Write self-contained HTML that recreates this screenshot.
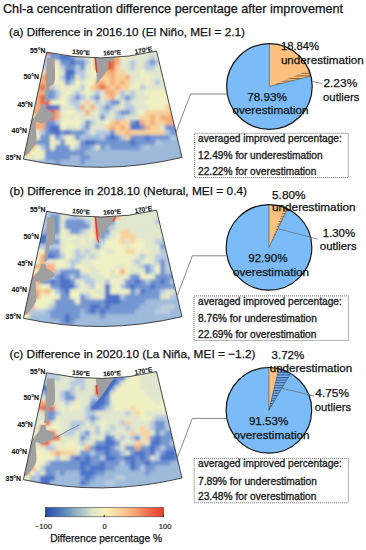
<!DOCTYPE html><html><head><meta charset="utf-8"><style>
html,body{margin:0;padding:0;background:#fff;}
svg{display:block;}
text{font-family:"Liberation Sans", sans-serif;}
</style></head><body>
<svg width="366" height="550" viewBox="0 0 366 550">
<defs>
<filter id="bl10" x="-10%" y="-10%" width="120%" height="120%"><feGaussianBlur stdDeviation="3.5"/></filter>
<filter id="bl5" x="-10%" y="-10%" width="120%" height="120%"><feGaussianBlur stdDeviation="1.4"/></filter>
<filter id="bl1" x="-20%" y="-20%" width="140%" height="140%"><feGaussianBlur stdDeviation="0.8"/></filter>
<pattern id="hatchO" patternUnits="userSpaceOnUse" width="4" height="2.6"><rect width="4" height="2.6" fill="#fdc17f"/><rect y="0" width="4" height="1.0" fill="#8e5c2c"/></pattern>
<pattern id="hatchB" patternUnits="userSpaceOnUse" width="4" height="2.6"><rect width="4" height="2.6" fill="#7bbcf8"/><rect y="0" width="4" height="1.1" fill="#2d4c88"/></pattern>
<linearGradient id="cbar" x1="0" x2="1" y1="0" y2="0">
<stop offset="0" stop-color="#2e44b0"/><stop offset="0.075" stop-color="#3a68b0"/><stop offset="0.16" stop-color="#5a88ba"/>
<stop offset="0.24" stop-color="#88a8c2"/><stop offset="0.32" stop-color="#b4c6c8"/><stop offset="0.40" stop-color="#dce4c4"/>
<stop offset="0.49" stop-color="#f5f4c0"/><stop offset="0.58" stop-color="#fde0a8"/><stop offset="0.66" stop-color="#fcc890"/>
<stop offset="0.75" stop-color="#f8a878"/><stop offset="0.83" stop-color="#f48060"/><stop offset="0.92" stop-color="#f05840"/>
<stop offset="1" stop-color="#ee3a2a"/>
</linearGradient>
</defs>

<text x="3" y="12.8" font-size="12.6" fill="#111" stroke="#111" stroke-width="0.25" textLength="340" lengthAdjust="spacingAndGlyphs">Chl-a cencentration difference percentage after improvement</text>
<text x="9" y="36.4" font-size="11.8" fill="#111" stroke="#111" stroke-width="0.25" textLength="236" lengthAdjust="spacingAndGlyphs">(a) Difference in 2016.10 (El Niño, MEI = 2.1)</text>
<clipPath id="clip0"><path d="M46.61,52.17 A247.40,247.40 0 0 0 156.56,51.03 L181.97,157.44 A356.80,356.80 0 0 1 23.40,159.08 Z"/></clipPath>
<g clip-path="url(#clip0)">
<g filter="url(#bl5)"><rect x="15" y="45" width="35.3" height="5.3" fill="#e66a4e"/><rect x="50" y="45" width="30.3" height="5.3" fill="#7294d0"/><rect x="80" y="45" width="5.3" height="5.3" fill="#b5c9e0"/><rect x="85" y="45" width="10.3" height="5.3" fill="#e1e6cd"/><rect x="95" y="45" width="15.3" height="5.3" fill="#f0f1c2"/><rect x="110" y="45" width="15.3" height="5.3" fill="#f4ad78"/><rect x="125" y="45" width="5.3" height="5.3" fill="#f0f1c2"/><rect x="130" y="45" width="65.3" height="5.3" fill="#e1e6cd"/><rect x="15" y="50" width="35.3" height="5.3" fill="#e66a4e"/><rect x="50" y="50" width="30.3" height="5.3" fill="#7294d0"/><rect x="80" y="50" width="5.3" height="5.3" fill="#b5c9e0"/><rect x="85" y="50" width="10.3" height="5.3" fill="#e1e6cd"/><rect x="95" y="50" width="15.3" height="5.3" fill="#f0f1c2"/><rect x="110" y="50" width="15.3" height="5.3" fill="#f4ad78"/><rect x="125" y="50" width="5.3" height="5.3" fill="#f0f1c2"/><rect x="130" y="50" width="65.3" height="5.3" fill="#e1e6cd"/><rect x="15" y="55" width="35.3" height="5.3" fill="#b5c9e0"/><rect x="50" y="55" width="10.3" height="5.3" fill="#7294d0"/><rect x="60" y="55" width="10.3" height="5.3" fill="#4a70c6"/><rect x="70" y="55" width="5.3" height="5.3" fill="#7294d0"/><rect x="75" y="55" width="10.3" height="5.3" fill="#b5c9e0"/><rect x="85" y="55" width="5.3" height="5.3" fill="#e1e6cd"/><rect x="90" y="55" width="5.3" height="5.3" fill="#f0f1c2"/><rect x="95" y="55" width="10.3" height="5.3" fill="#e66a4e"/><rect x="105" y="55" width="15.3" height="5.3" fill="#f4ad78"/><rect x="120" y="55" width="5.3" height="5.3" fill="#f0f1c2"/><rect x="125" y="55" width="25.3" height="5.3" fill="#e1e6cd"/><rect x="150" y="55" width="5.3" height="5.3" fill="#b5c9e0"/><rect x="155" y="55" width="40.3" height="5.3" fill="#e1e6cd"/><rect x="15" y="60" width="35.3" height="5.3" fill="#b5c9e0"/><rect x="50" y="60" width="10.3" height="5.3" fill="#e1e6cd"/><rect x="60" y="60" width="10.3" height="5.3" fill="#7294d0"/><rect x="70" y="60" width="5.3" height="5.3" fill="#4a70c6"/><rect x="75" y="60" width="10.3" height="5.3" fill="#7294d0"/><rect x="85" y="60" width="5.3" height="5.3" fill="#b5c9e0"/><rect x="90" y="60" width="5.3" height="5.3" fill="#f0f1c2"/><rect x="95" y="60" width="20.3" height="5.3" fill="#e66a4e"/><rect x="115" y="60" width="5.3" height="5.3" fill="#f4ad78"/><rect x="120" y="60" width="10.3" height="5.3" fill="#e1e6cd"/><rect x="130" y="60" width="5.3" height="5.3" fill="#b5c9e0"/><rect x="135" y="60" width="10.3" height="5.3" fill="#e1e6cd"/><rect x="145" y="60" width="5.3" height="5.3" fill="#b5c9e0"/><rect x="150" y="60" width="5.3" height="5.3" fill="#7294d0"/><rect x="155" y="60" width="5.3" height="5.3" fill="#b5c9e0"/><rect x="160" y="60" width="35.3" height="5.3" fill="#e1e6cd"/><rect x="15" y="65" width="35.3" height="5.3" fill="#b5c9e0"/><rect x="50" y="65" width="10.3" height="5.3" fill="#f0f1c2"/><rect x="60" y="65" width="5.3" height="5.3" fill="#b5c9e0"/><rect x="65" y="65" width="10.3" height="5.3" fill="#7294d0"/><rect x="75" y="65" width="5.3" height="5.3" fill="#b5c9e0"/><rect x="80" y="65" width="5.3" height="5.3" fill="#7294d0"/><rect x="85" y="65" width="5.3" height="5.3" fill="#e1e6cd"/><rect x="90" y="65" width="5.3" height="5.3" fill="#f0f1c2"/><rect x="95" y="65" width="20.3" height="5.3" fill="#e66a4e"/><rect x="115" y="65" width="5.3" height="5.3" fill="#f8d19c"/><rect x="120" y="65" width="10.3" height="5.3" fill="#e1e6cd"/><rect x="130" y="65" width="5.3" height="5.3" fill="#b5c9e0"/><rect x="135" y="65" width="10.3" height="5.3" fill="#e1e6cd"/><rect x="145" y="65" width="10.3" height="5.3" fill="#b5c9e0"/><rect x="155" y="65" width="40.3" height="5.3" fill="#e1e6cd"/><rect x="15" y="70" width="30.3" height="5.3" fill="#e1e6cd"/><rect x="45" y="70" width="5.3" height="5.3" fill="#f4ad78"/><rect x="50" y="70" width="10.3" height="5.3" fill="#f0f1c2"/><rect x="60" y="70" width="5.3" height="5.3" fill="#e1e6cd"/><rect x="65" y="70" width="10.3" height="5.3" fill="#4a70c6"/><rect x="75" y="70" width="10.3" height="5.3" fill="#b5c9e0"/><rect x="85" y="70" width="5.3" height="5.3" fill="#e1e6cd"/><rect x="90" y="70" width="10.3" height="5.3" fill="#f0f1c2"/><rect x="100" y="70" width="15.3" height="5.3" fill="#f4ad78"/><rect x="115" y="70" width="10.3" height="5.3" fill="#f8d19c"/><rect x="125" y="70" width="15.3" height="5.3" fill="#e1e6cd"/><rect x="140" y="70" width="5.3" height="5.3" fill="#f0f1c2"/><rect x="145" y="70" width="50.3" height="5.3" fill="#e1e6cd"/><rect x="15" y="75" width="30.3" height="5.3" fill="#f4ad78"/><rect x="45" y="75" width="5.3" height="5.3" fill="#e66a4e"/><rect x="50" y="75" width="10.3" height="5.3" fill="#f0f1c2"/><rect x="60" y="75" width="5.3" height="5.3" fill="#b5c9e0"/><rect x="65" y="75" width="5.3" height="5.3" fill="#4a70c6"/><rect x="70" y="75" width="5.3" height="5.3" fill="#7294d0"/><rect x="75" y="75" width="5.3" height="5.3" fill="#e1e6cd"/><rect x="80" y="75" width="5.3" height="5.3" fill="#b5c9e0"/><rect x="85" y="75" width="5.3" height="5.3" fill="#e1e6cd"/><rect x="90" y="75" width="5.3" height="5.3" fill="#f0f1c2"/><rect x="95" y="75" width="5.3" height="5.3" fill="#e1e6cd"/><rect x="100" y="75" width="10.3" height="5.3" fill="#f8d19c"/><rect x="110" y="75" width="5.3" height="5.3" fill="#f4ad78"/><rect x="115" y="75" width="10.3" height="5.3" fill="#f8d19c"/><rect x="125" y="75" width="5.3" height="5.3" fill="#f4ad78"/><rect x="130" y="75" width="10.3" height="5.3" fill="#e1e6cd"/><rect x="140" y="75" width="10.3" height="5.3" fill="#f0f1c2"/><rect x="150" y="75" width="45.3" height="5.3" fill="#e1e6cd"/><rect x="15" y="80" width="35.3" height="5.3" fill="#f4ad78"/><rect x="50" y="80" width="10.3" height="5.3" fill="#f0f1c2"/><rect x="60" y="80" width="5.3" height="5.3" fill="#e1e6cd"/><rect x="65" y="80" width="5.3" height="5.3" fill="#7294d0"/><rect x="70" y="80" width="5.3" height="5.3" fill="#b5c9e0"/><rect x="75" y="80" width="5.3" height="5.3" fill="#f0f1c2"/><rect x="80" y="80" width="5.3" height="5.3" fill="#e1e6cd"/><rect x="85" y="80" width="10.3" height="5.3" fill="#f0f1c2"/><rect x="95" y="80" width="10.3" height="5.3" fill="#f4ad78"/><rect x="105" y="80" width="5.3" height="5.3" fill="#f8d19c"/><rect x="110" y="80" width="5.3" height="5.3" fill="#f4ad78"/><rect x="115" y="80" width="5.3" height="5.3" fill="#f8d19c"/><rect x="120" y="80" width="5.3" height="5.3" fill="#f4ad78"/><rect x="125" y="80" width="5.3" height="5.3" fill="#f8d19c"/><rect x="130" y="80" width="5.3" height="5.3" fill="#e1e6cd"/><rect x="135" y="80" width="5.3" height="5.3" fill="#f0f1c2"/><rect x="140" y="80" width="5.3" height="5.3" fill="#e1e6cd"/><rect x="145" y="80" width="5.3" height="5.3" fill="#f0f1c2"/><rect x="150" y="80" width="5.3" height="5.3" fill="#e1e6cd"/><rect x="155" y="80" width="5.3" height="5.3" fill="#b5c9e0"/><rect x="160" y="80" width="35.3" height="5.3" fill="#e1e6cd"/><rect x="15" y="85" width="25.3" height="5.3" fill="#f4ad78"/><rect x="40" y="85" width="5.3" height="5.3" fill="#e66a4e"/><rect x="45" y="85" width="5.3" height="5.3" fill="#f4ad78"/><rect x="50" y="85" width="5.3" height="5.3" fill="#b5c9e0"/><rect x="55" y="85" width="5.3" height="5.3" fill="#e1e6cd"/><rect x="60" y="85" width="5.3" height="5.3" fill="#f0f1c2"/><rect x="65" y="85" width="5.3" height="5.3" fill="#e1e6cd"/><rect x="70" y="85" width="10.3" height="5.3" fill="#f0f1c2"/><rect x="80" y="85" width="5.3" height="5.3" fill="#b5c9e0"/><rect x="85" y="85" width="5.3" height="5.3" fill="#f0f1c2"/><rect x="90" y="85" width="5.3" height="5.3" fill="#f8d19c"/><rect x="95" y="85" width="5.3" height="5.3" fill="#f4ad78"/><rect x="100" y="85" width="5.3" height="5.3" fill="#e66a4e"/><rect x="105" y="85" width="5.3" height="5.3" fill="#f4ad78"/><rect x="110" y="85" width="5.3" height="5.3" fill="#f8d19c"/><rect x="115" y="85" width="5.3" height="5.3" fill="#f4ad78"/><rect x="120" y="85" width="10.3" height="5.3" fill="#f8d19c"/><rect x="130" y="85" width="10.3" height="5.3" fill="#f0f1c2"/><rect x="140" y="85" width="5.3" height="5.3" fill="#b5c9e0"/><rect x="145" y="85" width="50.3" height="5.3" fill="#e1e6cd"/><rect x="15" y="90" width="30.3" height="5.3" fill="#f4ad78"/><rect x="45" y="90" width="10.3" height="5.3" fill="#7294d0"/><rect x="55" y="90" width="5.3" height="5.3" fill="#b5c9e0"/><rect x="60" y="90" width="5.3" height="5.3" fill="#e1e6cd"/><rect x="65" y="90" width="5.3" height="5.3" fill="#f0f1c2"/><rect x="70" y="90" width="5.3" height="5.3" fill="#e1e6cd"/><rect x="75" y="90" width="5.3" height="5.3" fill="#b5c9e0"/><rect x="80" y="90" width="5.3" height="5.3" fill="#e1e6cd"/><rect x="85" y="90" width="5.3" height="5.3" fill="#f0f1c2"/><rect x="90" y="90" width="5.3" height="5.3" fill="#e1e6cd"/><rect x="95" y="90" width="5.3" height="5.3" fill="#b5c9e0"/><rect x="100" y="90" width="5.3" height="5.3" fill="#e1e6cd"/><rect x="105" y="90" width="10.3" height="5.3" fill="#f4ad78"/><rect x="115" y="90" width="5.3" height="5.3" fill="#f8d19c"/><rect x="120" y="90" width="5.3" height="5.3" fill="#b5c9e0"/><rect x="125" y="90" width="5.3" height="5.3" fill="#e1e6cd"/><rect x="130" y="90" width="5.3" height="5.3" fill="#b5c9e0"/><rect x="135" y="90" width="10.3" height="5.3" fill="#e1e6cd"/><rect x="145" y="90" width="20.3" height="5.3" fill="#f0f1c2"/><rect x="165" y="90" width="30.3" height="5.3" fill="#e1e6cd"/><rect x="15" y="95" width="25.3" height="5.3" fill="#f4ad78"/><rect x="40" y="95" width="5.3" height="5.3" fill="#e66a4e"/><rect x="45" y="95" width="10.3" height="5.3" fill="#7294d0"/><rect x="55" y="95" width="5.3" height="5.3" fill="#b5c9e0"/><rect x="60" y="95" width="5.3" height="5.3" fill="#f0f1c2"/><rect x="65" y="95" width="5.3" height="5.3" fill="#e1e6cd"/><rect x="70" y="95" width="5.3" height="5.3" fill="#b5c9e0"/><rect x="75" y="95" width="5.3" height="5.3" fill="#7294d0"/><rect x="80" y="95" width="5.3" height="5.3" fill="#b5c9e0"/><rect x="85" y="95" width="5.3" height="5.3" fill="#e1e6cd"/><rect x="90" y="95" width="5.3" height="5.3" fill="#b5c9e0"/><rect x="95" y="95" width="5.3" height="5.3" fill="#7294d0"/><rect x="100" y="95" width="5.3" height="5.3" fill="#e1e6cd"/><rect x="105" y="95" width="5.3" height="5.3" fill="#f8d19c"/><rect x="110" y="95" width="5.3" height="5.3" fill="#f4ad78"/><rect x="115" y="95" width="5.3" height="5.3" fill="#e1e6cd"/><rect x="120" y="95" width="5.3" height="5.3" fill="#b5c9e0"/><rect x="125" y="95" width="5.3" height="5.3" fill="#7294d0"/><rect x="130" y="95" width="5.3" height="5.3" fill="#b5c9e0"/><rect x="135" y="95" width="15.3" height="5.3" fill="#e1e6cd"/><rect x="150" y="95" width="45.3" height="5.3" fill="#f0f1c2"/><rect x="15" y="100" width="25.3" height="5.3" fill="#f4ad78"/><rect x="40" y="100" width="10.3" height="5.3" fill="#e66a4e"/><rect x="50" y="100" width="15.3" height="5.3" fill="#f0f1c2"/><rect x="65" y="100" width="5.3" height="5.3" fill="#e1e6cd"/><rect x="70" y="100" width="10.3" height="5.3" fill="#b5c9e0"/><rect x="80" y="100" width="5.3" height="5.3" fill="#e1e6cd"/><rect x="85" y="100" width="5.3" height="5.3" fill="#f8d19c"/><rect x="90" y="100" width="5.3" height="5.3" fill="#e1e6cd"/><rect x="95" y="100" width="5.3" height="5.3" fill="#b5c9e0"/><rect x="100" y="100" width="5.3" height="5.3" fill="#e1e6cd"/><rect x="105" y="100" width="5.3" height="5.3" fill="#b5c9e0"/><rect x="110" y="100" width="10.3" height="5.3" fill="#7294d0"/><rect x="120" y="100" width="5.3" height="5.3" fill="#e1e6cd"/><rect x="125" y="100" width="5.3" height="5.3" fill="#b5c9e0"/><rect x="130" y="100" width="15.3" height="5.3" fill="#e1e6cd"/><rect x="145" y="100" width="50.3" height="5.3" fill="#f0f1c2"/><rect x="15" y="105" width="30.3" height="5.3" fill="#f4ad78"/><rect x="45" y="105" width="15.3" height="5.3" fill="#4a70c6"/><rect x="60" y="105" width="15.3" height="5.3" fill="#e1e6cd"/><rect x="75" y="105" width="5.3" height="5.3" fill="#b5c9e0"/><rect x="80" y="105" width="5.3" height="5.3" fill="#f4ad78"/><rect x="85" y="105" width="5.3" height="5.3" fill="#e1e6cd"/><rect x="90" y="105" width="5.3" height="5.3" fill="#f4ad78"/><rect x="95" y="105" width="5.3" height="5.3" fill="#e1e6cd"/><rect x="100" y="105" width="5.3" height="5.3" fill="#b5c9e0"/><rect x="105" y="105" width="5.3" height="5.3" fill="#7294d0"/><rect x="110" y="105" width="5.3" height="5.3" fill="#b5c9e0"/><rect x="115" y="105" width="10.3" height="5.3" fill="#e1e6cd"/><rect x="125" y="105" width="10.3" height="5.3" fill="#b5c9e0"/><rect x="135" y="105" width="15.3" height="5.3" fill="#e1e6cd"/><rect x="150" y="105" width="15.3" height="5.3" fill="#f0f1c2"/><rect x="165" y="105" width="30.3" height="5.3" fill="#f8d19c"/><rect x="15" y="110" width="25.3" height="5.3" fill="#f4ad78"/><rect x="40" y="110" width="15.3" height="5.3" fill="#e66a4e"/><rect x="55" y="110" width="5.3" height="5.3" fill="#f4ad78"/><rect x="60" y="110" width="5.3" height="5.3" fill="#e1e6cd"/><rect x="65" y="110" width="10.3" height="5.3" fill="#f0f1c2"/><rect x="75" y="110" width="10.3" height="5.3" fill="#e1e6cd"/><rect x="85" y="110" width="5.3" height="5.3" fill="#f4ad78"/><rect x="90" y="110" width="10.3" height="5.3" fill="#e1e6cd"/><rect x="100" y="110" width="10.3" height="5.3" fill="#b5c9e0"/><rect x="110" y="110" width="5.3" height="5.3" fill="#e1e6cd"/><rect x="115" y="110" width="5.3" height="5.3" fill="#b5c9e0"/><rect x="120" y="110" width="10.3" height="5.3" fill="#7294d0"/><rect x="130" y="110" width="5.3" height="5.3" fill="#b5c9e0"/><rect x="135" y="110" width="5.3" height="5.3" fill="#e1e6cd"/><rect x="140" y="110" width="5.3" height="5.3" fill="#f0f1c2"/><rect x="145" y="110" width="25.3" height="5.3" fill="#f8d19c"/><rect x="170" y="110" width="25.3" height="5.3" fill="#f4ad78"/><rect x="15" y="115" width="25.3" height="5.3" fill="#f0f1c2"/><rect x="40" y="115" width="5.3" height="5.3" fill="#f4ad78"/><rect x="45" y="115" width="10.3" height="5.3" fill="#e66a4e"/><rect x="55" y="115" width="5.3" height="5.3" fill="#f4ad78"/><rect x="60" y="115" width="5.3" height="5.3" fill="#e1e6cd"/><rect x="65" y="115" width="5.3" height="5.3" fill="#f0f1c2"/><rect x="70" y="115" width="5.3" height="5.3" fill="#e1e6cd"/><rect x="75" y="115" width="5.3" height="5.3" fill="#f0f1c2"/><rect x="80" y="115" width="20.3" height="5.3" fill="#e1e6cd"/><rect x="100" y="115" width="5.3" height="5.3" fill="#7294d0"/><rect x="105" y="115" width="10.3" height="5.3" fill="#e1e6cd"/><rect x="115" y="115" width="10.3" height="5.3" fill="#b5c9e0"/><rect x="125" y="115" width="15.3" height="5.3" fill="#e1e6cd"/><rect x="140" y="115" width="10.3" height="5.3" fill="#f8d19c"/><rect x="150" y="115" width="5.3" height="5.3" fill="#f4ad78"/><rect x="155" y="115" width="5.3" height="5.3" fill="#f8d19c"/><rect x="160" y="115" width="35.3" height="5.3" fill="#f4ad78"/><rect x="15" y="120" width="30.3" height="5.3" fill="#f4ad78"/><rect x="45" y="120" width="10.3" height="5.3" fill="#7294d0"/><rect x="55" y="120" width="5.3" height="5.3" fill="#b5c9e0"/><rect x="60" y="120" width="20.3" height="5.3" fill="#f0f1c2"/><rect x="80" y="120" width="5.3" height="5.3" fill="#e1e6cd"/><rect x="85" y="120" width="5.3" height="5.3" fill="#7294d0"/><rect x="90" y="120" width="5.3" height="5.3" fill="#b5c9e0"/><rect x="95" y="120" width="10.3" height="5.3" fill="#e1e6cd"/><rect x="105" y="120" width="5.3" height="5.3" fill="#f0f1c2"/><rect x="110" y="120" width="5.3" height="5.3" fill="#f8d19c"/><rect x="115" y="120" width="5.3" height="5.3" fill="#f4ad78"/><rect x="120" y="120" width="10.3" height="5.3" fill="#f8d19c"/><rect x="130" y="120" width="5.3" height="5.3" fill="#7294d0"/><rect x="135" y="120" width="5.3" height="5.3" fill="#4a70c6"/><rect x="140" y="120" width="5.3" height="5.3" fill="#f4ad78"/><rect x="145" y="120" width="5.3" height="5.3" fill="#f8d19c"/><rect x="150" y="120" width="5.3" height="5.3" fill="#f4ad78"/><rect x="155" y="120" width="10.3" height="5.3" fill="#f8d19c"/><rect x="165" y="120" width="30.3" height="5.3" fill="#f4ad78"/><rect x="15" y="125" width="30.3" height="5.3" fill="#f4ad78"/><rect x="45" y="125" width="5.3" height="5.3" fill="#7294d0"/><rect x="50" y="125" width="10.3" height="5.3" fill="#4a70c6"/><rect x="60" y="125" width="5.3" height="5.3" fill="#f0f1c2"/><rect x="65" y="125" width="10.3" height="5.3" fill="#e1e6cd"/><rect x="75" y="125" width="5.3" height="5.3" fill="#f0f1c2"/><rect x="80" y="125" width="5.3" height="5.3" fill="#b5c9e0"/><rect x="85" y="125" width="5.3" height="5.3" fill="#7294d0"/><rect x="90" y="125" width="15.3" height="5.3" fill="#e1e6cd"/><rect x="105" y="125" width="5.3" height="5.3" fill="#f8d19c"/><rect x="110" y="125" width="5.3" height="5.3" fill="#f4ad78"/><rect x="115" y="125" width="5.3" height="5.3" fill="#f8d19c"/><rect x="120" y="125" width="5.3" height="5.3" fill="#f4ad78"/><rect x="125" y="125" width="5.3" height="5.3" fill="#f8d19c"/><rect x="130" y="125" width="10.3" height="5.3" fill="#4a70c6"/><rect x="140" y="125" width="5.3" height="5.3" fill="#7294d0"/><rect x="145" y="125" width="5.3" height="5.3" fill="#f4ad78"/><rect x="150" y="125" width="10.3" height="5.3" fill="#f8d19c"/><rect x="160" y="125" width="5.3" height="5.3" fill="#e1e6cd"/><rect x="165" y="125" width="30.3" height="5.3" fill="#7294d0"/><rect x="15" y="130" width="25.3" height="5.3" fill="#f0f1c2"/><rect x="40" y="130" width="5.3" height="5.3" fill="#b5c9e0"/><rect x="45" y="130" width="5.3" height="5.3" fill="#7294d0"/><rect x="50" y="130" width="10.3" height="5.3" fill="#4a70c6"/><rect x="60" y="130" width="5.3" height="5.3" fill="#7294d0"/><rect x="65" y="130" width="5.3" height="5.3" fill="#4a70c6"/><rect x="70" y="130" width="15.3" height="5.3" fill="#7294d0"/><rect x="85" y="130" width="5.3" height="5.3" fill="#b5c9e0"/><rect x="90" y="130" width="5.3" height="5.3" fill="#e1e6cd"/><rect x="95" y="130" width="15.3" height="5.3" fill="#b5c9e0"/><rect x="110" y="130" width="5.3" height="5.3" fill="#7294d0"/><rect x="115" y="130" width="10.3" height="5.3" fill="#f8d19c"/><rect x="125" y="130" width="5.3" height="5.3" fill="#f4ad78"/><rect x="130" y="130" width="35.3" height="5.3" fill="#f8d19c"/><rect x="165" y="130" width="5.3" height="5.3" fill="#b5c9e0"/><rect x="170" y="130" width="25.3" height="5.3" fill="#7294d0"/><rect x="15" y="135" width="25.3" height="5.3" fill="#f0f1c2"/><rect x="40" y="135" width="10.3" height="5.3" fill="#7294d0"/><rect x="50" y="135" width="5.3" height="5.3" fill="#f0f1c2"/><rect x="55" y="135" width="5.3" height="5.3" fill="#7294d0"/><rect x="60" y="135" width="5.3" height="5.3" fill="#b5c9e0"/><rect x="65" y="135" width="5.3" height="5.3" fill="#f0f1c2"/><rect x="70" y="135" width="5.3" height="5.3" fill="#e1e6cd"/><rect x="75" y="135" width="5.3" height="5.3" fill="#7294d0"/><rect x="80" y="135" width="5.3" height="5.3" fill="#b5c9e0"/><rect x="85" y="135" width="15.3" height="5.3" fill="#9db9da"/><rect x="100" y="135" width="5.3" height="5.3" fill="#b5c9e0"/><rect x="105" y="135" width="5.3" height="5.3" fill="#7294d0"/><rect x="110" y="135" width="5.3" height="5.3" fill="#4a70c6"/><rect x="115" y="135" width="5.3" height="5.3" fill="#7294d0"/><rect x="120" y="135" width="5.3" height="5.3" fill="#b5c9e0"/><rect x="125" y="135" width="5.3" height="5.3" fill="#f8d19c"/><rect x="130" y="135" width="15.3" height="5.3" fill="#7294d0"/><rect x="145" y="135" width="5.3" height="5.3" fill="#4a70c6"/><rect x="150" y="135" width="20.3" height="5.3" fill="#7294d0"/><rect x="170" y="135" width="5.3" height="5.3" fill="#b5c9e0"/><rect x="175" y="135" width="20.3" height="5.3" fill="#9db9da"/><rect x="15" y="140" width="20.3" height="5.3" fill="#e66a4e"/><rect x="35" y="140" width="15.3" height="5.3" fill="#7294d0"/><rect x="50" y="140" width="5.3" height="5.3" fill="#f0f1c2"/><rect x="55" y="140" width="5.3" height="5.3" fill="#e1e6cd"/><rect x="60" y="140" width="5.3" height="5.3" fill="#7294d0"/><rect x="65" y="140" width="10.3" height="5.3" fill="#f0f1c2"/><rect x="75" y="140" width="5.3" height="5.3" fill="#e1e6cd"/><rect x="80" y="140" width="5.3" height="5.3" fill="#7294d0"/><rect x="85" y="140" width="10.3" height="5.3" fill="#4a70c6"/><rect x="95" y="140" width="35.3" height="5.3" fill="#7294d0"/><rect x="130" y="140" width="5.3" height="5.3" fill="#4a70c6"/><rect x="135" y="140" width="20.3" height="5.3" fill="#7294d0"/><rect x="155" y="140" width="5.3" height="5.3" fill="#b5c9e0"/><rect x="160" y="140" width="35.3" height="5.3" fill="#9db9da"/><rect x="15" y="145" width="20.3" height="5.3" fill="#f4ad78"/><rect x="35" y="145" width="5.3" height="5.3" fill="#f0f1c2"/><rect x="40" y="145" width="5.3" height="5.3" fill="#b5c9e0"/><rect x="45" y="145" width="5.3" height="5.3" fill="#7294d0"/><rect x="50" y="145" width="5.3" height="5.3" fill="#f0f1c2"/><rect x="55" y="145" width="15.3" height="5.3" fill="#7294d0"/><rect x="70" y="145" width="5.3" height="5.3" fill="#f0f1c2"/><rect x="75" y="145" width="5.3" height="5.3" fill="#b5c9e0"/><rect x="80" y="145" width="10.3" height="5.3" fill="#7294d0"/><rect x="90" y="145" width="5.3" height="5.3" fill="#9db9da"/><rect x="95" y="145" width="5.3" height="5.3" fill="#e1e6cd"/><rect x="100" y="145" width="5.3" height="5.3" fill="#7294d0"/><rect x="105" y="145" width="5.3" height="5.3" fill="#9db9da"/><rect x="110" y="145" width="30.3" height="5.3" fill="#7294d0"/><rect x="140" y="145" width="5.3" height="5.3" fill="#9db9da"/><rect x="145" y="145" width="5.3" height="5.3" fill="#b5c9e0"/><rect x="150" y="145" width="45.3" height="5.3" fill="#9db9da"/><rect x="15" y="150" width="15.3" height="5.3" fill="#f4ad78"/><rect x="30" y="150" width="15.3" height="5.3" fill="#f0f1c2"/><rect x="45" y="150" width="40.3" height="5.3" fill="#7294d0"/><rect x="85" y="150" width="110.3" height="5.3" fill="#9db9da"/><rect x="15" y="155" width="15.3" height="5.3" fill="#f0f1c2"/><rect x="30" y="155" width="5.3" height="5.3" fill="#e1e6cd"/><rect x="35" y="155" width="5.3" height="5.3" fill="#f0f1c2"/><rect x="40" y="155" width="5.3" height="5.3" fill="#e1e6cd"/><rect x="45" y="155" width="25.3" height="5.3" fill="#7294d0"/><rect x="70" y="155" width="10.3" height="5.3" fill="#9db9da"/><rect x="80" y="155" width="10.3" height="5.3" fill="#7294d0"/><rect x="90" y="155" width="105.3" height="5.3" fill="#9db9da"/><rect x="15" y="160" width="40.3" height="5.3" fill="#9db9da"/><rect x="55" y="160" width="5.3" height="5.3" fill="#7294d0"/><rect x="60" y="160" width="20.3" height="5.3" fill="#9db9da"/><rect x="80" y="160" width="5.3" height="5.3" fill="#7294d0"/><rect x="85" y="160" width="110.3" height="5.3" fill="#9db9da"/><rect x="15" y="165" width="180.3" height="5.3" fill="#9db9da"/><rect x="15" y="170" width="180.3" height="5.3" fill="#9db9da"/></g>
<path d="M46.8,58.0 L54.5,58.0 L55.0,70.0 L55.0,80.0 L53.5,84.5 L49.5,86.5 L48.8,92.0 L47.8,98.0 L46.8,102.0 L44.0,102.5 L44.8,98.0 L45.5,90.0 L46.0,80.0 L46.3,70.0Z" fill="#a0a0a0"/>
<path d="M40.7,104.5 L45.5,104.5 L46.0,109.0 L49.6,110.7 L53.5,113.5 L55.0,115.5 L53.5,117.6 L50.6,119.6 L45.7,121.6 L41.7,123.5 L38.0,122.0 L35.5,122.0 L36.0,130.0 L36.6,138.0 L36.0,142.0 L34.0,146.0 L31.0,150.0 L28.5,153.0 L26.0,155.5 L15.0,155.0 L15.0,118.0 L33.9,118.0 L34.8,115.7 L36.8,113.7 L38.8,110.7 L40.5,108.0Z" fill="#a0a0a0"/>
<path d="M95.0,50.0 L117.0,50.0 L115.5,57.5 L112.0,61.0 L109.0,67.7 L106.0,71.5 L103.7,75.6 L100.0,79.5 L96.5,84.0 L96.8,76.0 L96.4,67.7 L95.6,58.0Z" fill="#a0a0a0"/>
<path d="M95.2,57.5 L96.0,65.0 L96.8,72.0" fill="none" stroke="#e23b2a" stroke-width="1.5" stroke-linecap="round" stroke-linejoin="round"/>
<path d="M109.5,62.0 L109.5,68.0" fill="none" stroke="#e8553a" stroke-width="2.0" stroke-linecap="round" stroke-linejoin="round"/>
</g>
<path d="M46.61,52.17 A247.40,247.40 0 0 0 156.56,51.03 L181.97,157.44 A356.80,356.80 0 0 1 23.40,159.08 Z" fill="none" stroke="#333" stroke-width="0.9"/>
<text x="45.4" y="52.9" font-size="6.9" font-weight="bold" fill="#111" stroke="#111" stroke-width="0.1" text-anchor="end">55°N</text>
<text x="38.9" y="79.4" font-size="6.9" font-weight="bold" fill="#111" stroke="#111" stroke-width="0.1" text-anchor="end">50°N</text>
<text x="32.8" y="106.5" font-size="6.9" font-weight="bold" fill="#111" stroke="#111" stroke-width="0.1" text-anchor="end">45°N</text>
<text x="27" y="132.9" font-size="6.9" font-weight="bold" fill="#111" stroke="#111" stroke-width="0.1" text-anchor="end">40°N</text>
<text x="21" y="159.9" font-size="6.9" font-weight="bold" fill="#111" stroke="#111" stroke-width="0.1" text-anchor="end">35°N</text>
<text x="81" y="54.7" font-size="6.6" font-weight="bold" fill="#111" stroke="#111" stroke-width="0.1" text-anchor="middle" transform="rotate(4.2 81 54.7)">150°E</text>
<text x="112.2" y="55.1" font-size="6.6" font-weight="bold" fill="#111" stroke="#111" stroke-width="0.1" text-anchor="middle" transform="rotate(-3.0 112.2 55.1)">160°E</text>
<text x="143.8" y="52.5" font-size="6.6" font-weight="bold" fill="#111" stroke="#111" stroke-width="0.1" text-anchor="middle" transform="rotate(-10.0 143.8 52.5)">170°E</text>
<path d="M175.8,132.9 L190.6,94 L226.4,94" fill="none" stroke="#555" stroke-width="0.7"/>
<circle cx="269.4" cy="86.5" r="42.8" fill="#7bbcf8"/>
<path d="M269.40,86.50 L269.40,43.70 A42.8,42.8 0 0 1 309.03,70.35 Z" fill="#fdc17f"/>
<path d="M269.40,86.50 L309.03,70.35 A42.8,42.8 0 0 1 310.90,76.04 Z" fill="url(#hatchO)"/>
<line x1="269.4" y1="86.5" x2="269.40" y2="43.70" stroke="#3a3a3a" stroke-width="0.5"/>
<line x1="269.4" y1="86.5" x2="310.90" y2="76.04" stroke="#3a3a3a" stroke-width="0.5"/>
<circle cx="269.4" cy="86.5" r="42.8" fill="none" stroke="#151515" stroke-width="1.2"/>
<line x1="311.7" y1="81.2" x2="321.6" y2="83.5" stroke="#666" stroke-width="0.7"/>
<text x="280.9" y="50.3" font-size="11.5" fill="#111" stroke="#111" stroke-width="0.25" textLength="38.1" lengthAdjust="spacingAndGlyphs">18.84%</text>
<text x="280.9" y="63.8" font-size="11.5" fill="#111" stroke="#111" stroke-width="0.25" textLength="82.9" lengthAdjust="spacingAndGlyphs">underestimation</text>
<text x="323.4" y="87.1" font-size="11.5" fill="#111" stroke="#111" stroke-width="0.25" textLength="33.9" lengthAdjust="spacingAndGlyphs">2.23%</text>
<text x="323.1" y="100.7" font-size="11.5" fill="#111" stroke="#111" stroke-width="0.25" textLength="36.4" lengthAdjust="spacingAndGlyphs">outliers</text>
<text x="247.2" y="101" font-size="11.5" fill="#111" stroke="#111" stroke-width="0.25" textLength="39.8" lengthAdjust="spacingAndGlyphs">78.93%</text>
<text x="232.4" y="113.8" font-size="11.5" fill="#111" stroke="#111" stroke-width="0.25" textLength="76.2" lengthAdjust="spacingAndGlyphs">overestimation</text>
<rect x="194.6" y="133.3" width="153.70000000000002" height="44.19999999999999" fill="none" stroke="#444" stroke-width="0.8" stroke-dasharray="1,1"/>
<text x="198" y="142" font-size="10.2" fill="#1a1a1a" stroke="#1a1a1a" stroke-width="0.32">averaged improved percentage:</text>
<text x="198" y="158.7" font-size="10.2" fill="#1a1a1a" stroke="#1a1a1a" stroke-width="0.32">12.49% for underestimation</text>
<text x="198" y="174.6" font-size="10.2" fill="#1a1a1a" stroke="#1a1a1a" stroke-width="0.32">22.22% for overestimation</text>
<text x="9.5" y="195.1" font-size="11.8" fill="#111" stroke="#111" stroke-width="0.25" textLength="237.5" lengthAdjust="spacingAndGlyphs">(b) Difference in 2018.10 (Netural, MEI = 0.4)</text>
<clipPath id="clip1"><path d="M46.61,211.37 A247.40,247.40 0 0 0 156.56,210.23 L181.97,316.64 A356.80,356.80 0 0 1 23.40,318.28 Z"/></clipPath>
<g clip-path="url(#clip1)">
<g filter="url(#bl5)"><rect x="15" y="204.2" width="55.3" height="5.3" fill="#b5c9e0"/><rect x="70" y="204.2" width="10.3" height="5.3" fill="#9db9da"/><rect x="80" y="204.2" width="10.3" height="5.3" fill="#b5c9e0"/><rect x="90" y="204.2" width="5.3" height="5.3" fill="#e1e6cd"/><rect x="95" y="204.2" width="25.3" height="5.3" fill="#e66a4e"/><rect x="120" y="204.2" width="75.3" height="5.3" fill="#e1e6cd"/><rect x="15" y="209.2" width="55.3" height="5.3" fill="#b5c9e0"/><rect x="70" y="209.2" width="10.3" height="5.3" fill="#9db9da"/><rect x="80" y="209.2" width="10.3" height="5.3" fill="#b5c9e0"/><rect x="90" y="209.2" width="5.3" height="5.3" fill="#e1e6cd"/><rect x="95" y="209.2" width="25.3" height="5.3" fill="#e66a4e"/><rect x="120" y="209.2" width="75.3" height="5.3" fill="#e1e6cd"/><rect x="15" y="214.2" width="35.3" height="5.3" fill="#b5c9e0"/><rect x="50" y="214.2" width="10.3" height="5.3" fill="#7294d0"/><rect x="60" y="214.2" width="10.3" height="5.3" fill="#e1e6cd"/><rect x="70" y="214.2" width="10.3" height="5.3" fill="#b5c9e0"/><rect x="80" y="214.2" width="15.3" height="5.3" fill="#e1e6cd"/><rect x="95" y="214.2" width="10.3" height="5.3" fill="#e66a4e"/><rect x="105" y="214.2" width="15.3" height="5.3" fill="#f4ad78"/><rect x="120" y="214.2" width="75.3" height="5.3" fill="#e1e6cd"/><rect x="15" y="219.2" width="35.3" height="5.3" fill="#b5c9e0"/><rect x="50" y="219.2" width="10.3" height="5.3" fill="#7294d0"/><rect x="60" y="219.2" width="5.3" height="5.3" fill="#e1e6cd"/><rect x="65" y="219.2" width="20.3" height="5.3" fill="#7294d0"/><rect x="85" y="219.2" width="5.3" height="5.3" fill="#b5c9e0"/><rect x="90" y="219.2" width="5.3" height="5.3" fill="#e1e6cd"/><rect x="95" y="219.2" width="10.3" height="5.3" fill="#e66a4e"/><rect x="105" y="219.2" width="10.3" height="5.3" fill="#7294d0"/><rect x="115" y="219.2" width="40.3" height="5.3" fill="#e1e6cd"/><rect x="155" y="219.2" width="5.3" height="5.3" fill="#b5c9e0"/><rect x="160" y="219.2" width="35.3" height="5.3" fill="#e1e6cd"/><rect x="15" y="224.2" width="35.3" height="5.3" fill="#b5c9e0"/><rect x="50" y="224.2" width="10.3" height="5.3" fill="#7294d0"/><rect x="60" y="224.2" width="5.3" height="5.3" fill="#e1e6cd"/><rect x="65" y="224.2" width="25.3" height="5.3" fill="#7294d0"/><rect x="90" y="224.2" width="5.3" height="5.3" fill="#e1e6cd"/><rect x="95" y="224.2" width="10.3" height="5.3" fill="#e66a4e"/><rect x="105" y="224.2" width="10.3" height="5.3" fill="#b5c9e0"/><rect x="115" y="224.2" width="80.3" height="5.3" fill="#e1e6cd"/><rect x="15" y="229.2" width="30.3" height="5.3" fill="#b5c9e0"/><rect x="45" y="229.2" width="15.3" height="5.3" fill="#7294d0"/><rect x="60" y="229.2" width="5.3" height="5.3" fill="#f0f1c2"/><rect x="65" y="229.2" width="5.3" height="5.3" fill="#e1e6cd"/><rect x="70" y="229.2" width="10.3" height="5.3" fill="#7294d0"/><rect x="80" y="229.2" width="5.3" height="5.3" fill="#b5c9e0"/><rect x="85" y="229.2" width="5.3" height="5.3" fill="#e1e6cd"/><rect x="90" y="229.2" width="5.3" height="5.3" fill="#f0f1c2"/><rect x="95" y="229.2" width="5.3" height="5.3" fill="#e66a4e"/><rect x="100" y="229.2" width="10.3" height="5.3" fill="#7294d0"/><rect x="110" y="229.2" width="10.3" height="5.3" fill="#e1e6cd"/><rect x="120" y="229.2" width="10.3" height="5.3" fill="#f8d19c"/><rect x="130" y="229.2" width="65.3" height="5.3" fill="#e1e6cd"/><rect x="15" y="234.2" width="35.3" height="5.3" fill="#4a70c6"/><rect x="50" y="234.2" width="10.3" height="5.3" fill="#b5c9e0"/><rect x="60" y="234.2" width="5.3" height="5.3" fill="#f0f1c2"/><rect x="65" y="234.2" width="5.3" height="5.3" fill="#e1e6cd"/><rect x="70" y="234.2" width="5.3" height="5.3" fill="#f0f1c2"/><rect x="75" y="234.2" width="15.3" height="5.3" fill="#e1e6cd"/><rect x="90" y="234.2" width="5.3" height="5.3" fill="#f0f1c2"/><rect x="95" y="234.2" width="5.3" height="5.3" fill="#f4ad78"/><rect x="100" y="234.2" width="5.3" height="5.3" fill="#7294d0"/><rect x="105" y="234.2" width="5.3" height="5.3" fill="#b5c9e0"/><rect x="110" y="234.2" width="5.3" height="5.3" fill="#e1e6cd"/><rect x="115" y="234.2" width="5.3" height="5.3" fill="#f0f1c2"/><rect x="120" y="234.2" width="15.3" height="5.3" fill="#f8d19c"/><rect x="135" y="234.2" width="60.3" height="5.3" fill="#e1e6cd"/><rect x="15" y="239.2" width="30.3" height="5.3" fill="#4a70c6"/><rect x="45" y="239.2" width="15.3" height="5.3" fill="#7294d0"/><rect x="60" y="239.2" width="5.3" height="5.3" fill="#e1e6cd"/><rect x="65" y="239.2" width="5.3" height="5.3" fill="#f0f1c2"/><rect x="70" y="239.2" width="10.3" height="5.3" fill="#e1e6cd"/><rect x="80" y="239.2" width="5.3" height="5.3" fill="#f0f1c2"/><rect x="85" y="239.2" width="10.3" height="5.3" fill="#e1e6cd"/><rect x="95" y="239.2" width="10.3" height="5.3" fill="#b5c9e0"/><rect x="105" y="239.2" width="15.3" height="5.3" fill="#f0f1c2"/><rect x="120" y="239.2" width="5.3" height="5.3" fill="#f8d19c"/><rect x="125" y="239.2" width="5.3" height="5.3" fill="#e1e6cd"/><rect x="130" y="239.2" width="5.3" height="5.3" fill="#f8d19c"/><rect x="135" y="239.2" width="10.3" height="5.3" fill="#f0f1c2"/><rect x="145" y="239.2" width="10.3" height="5.3" fill="#e1e6cd"/><rect x="155" y="239.2" width="40.3" height="5.3" fill="#b5c9e0"/><rect x="15" y="244.2" width="45.3" height="5.3" fill="#b5c9e0"/><rect x="60" y="244.2" width="5.3" height="5.3" fill="#e1e6cd"/><rect x="65" y="244.2" width="10.3" height="5.3" fill="#f0f1c2"/><rect x="75" y="244.2" width="20.3" height="5.3" fill="#e1e6cd"/><rect x="95" y="244.2" width="5.3" height="5.3" fill="#7294d0"/><rect x="100" y="244.2" width="5.3" height="5.3" fill="#e1e6cd"/><rect x="105" y="244.2" width="20.3" height="5.3" fill="#f0f1c2"/><rect x="125" y="244.2" width="5.3" height="5.3" fill="#e1e6cd"/><rect x="130" y="244.2" width="15.3" height="5.3" fill="#f0f1c2"/><rect x="145" y="244.2" width="15.3" height="5.3" fill="#e1e6cd"/><rect x="160" y="244.2" width="5.3" height="5.3" fill="#7294d0"/><rect x="165" y="244.2" width="30.3" height="5.3" fill="#b5c9e0"/><rect x="15" y="249.2" width="30.3" height="5.3" fill="#f0f1c2"/><rect x="45" y="249.2" width="15.3" height="5.3" fill="#7294d0"/><rect x="60" y="249.2" width="5.3" height="5.3" fill="#e1e6cd"/><rect x="65" y="249.2" width="5.3" height="5.3" fill="#f0f1c2"/><rect x="70" y="249.2" width="5.3" height="5.3" fill="#e1e6cd"/><rect x="75" y="249.2" width="5.3" height="5.3" fill="#b5c9e0"/><rect x="80" y="249.2" width="5.3" height="5.3" fill="#e1e6cd"/><rect x="85" y="249.2" width="5.3" height="5.3" fill="#b5c9e0"/><rect x="90" y="249.2" width="10.3" height="5.3" fill="#e1e6cd"/><rect x="100" y="249.2" width="5.3" height="5.3" fill="#f0f1c2"/><rect x="105" y="249.2" width="10.3" height="5.3" fill="#e1e6cd"/><rect x="115" y="249.2" width="10.3" height="5.3" fill="#f0f1c2"/><rect x="125" y="249.2" width="10.3" height="5.3" fill="#f8d19c"/><rect x="135" y="249.2" width="5.3" height="5.3" fill="#f0f1c2"/><rect x="140" y="249.2" width="5.3" height="5.3" fill="#e1e6cd"/><rect x="145" y="249.2" width="5.3" height="5.3" fill="#f0f1c2"/><rect x="150" y="249.2" width="10.3" height="5.3" fill="#e1e6cd"/><rect x="160" y="249.2" width="35.3" height="5.3" fill="#b5c9e0"/><rect x="15" y="254.2" width="25.3" height="5.3" fill="#f0f1c2"/><rect x="40" y="254.2" width="5.3" height="5.3" fill="#f4ad78"/><rect x="45" y="254.2" width="10.3" height="5.3" fill="#4a70c6"/><rect x="55" y="254.2" width="5.3" height="5.3" fill="#7294d0"/><rect x="60" y="254.2" width="5.3" height="5.3" fill="#b5c9e0"/><rect x="65" y="254.2" width="5.3" height="5.3" fill="#f0f1c2"/><rect x="70" y="254.2" width="5.3" height="5.3" fill="#e1e6cd"/><rect x="75" y="254.2" width="10.3" height="5.3" fill="#b5c9e0"/><rect x="85" y="254.2" width="5.3" height="5.3" fill="#e1e6cd"/><rect x="90" y="254.2" width="5.3" height="5.3" fill="#b5c9e0"/><rect x="95" y="254.2" width="5.3" height="5.3" fill="#e1e6cd"/><rect x="100" y="254.2" width="35.3" height="5.3" fill="#f0f1c2"/><rect x="135" y="254.2" width="5.3" height="5.3" fill="#e1e6cd"/><rect x="140" y="254.2" width="5.3" height="5.3" fill="#b5c9e0"/><rect x="145" y="254.2" width="10.3" height="5.3" fill="#e1e6cd"/><rect x="155" y="254.2" width="40.3" height="5.3" fill="#b5c9e0"/><rect x="15" y="259.2" width="25.3" height="5.3" fill="#f0f1c2"/><rect x="40" y="259.2" width="5.3" height="5.3" fill="#f4ad78"/><rect x="45" y="259.2" width="10.3" height="5.3" fill="#e1e6cd"/><rect x="55" y="259.2" width="10.3" height="5.3" fill="#f0f1c2"/><rect x="65" y="259.2" width="5.3" height="5.3" fill="#e1e6cd"/><rect x="70" y="259.2" width="10.3" height="5.3" fill="#b5c9e0"/><rect x="80" y="259.2" width="10.3" height="5.3" fill="#e1e6cd"/><rect x="90" y="259.2" width="40.3" height="5.3" fill="#f0f1c2"/><rect x="130" y="259.2" width="5.3" height="5.3" fill="#e1e6cd"/><rect x="135" y="259.2" width="5.3" height="5.3" fill="#b5c9e0"/><rect x="140" y="259.2" width="5.3" height="5.3" fill="#e1e6cd"/><rect x="145" y="259.2" width="5.3" height="5.3" fill="#f0f1c2"/><rect x="150" y="259.2" width="5.3" height="5.3" fill="#e1e6cd"/><rect x="155" y="259.2" width="5.3" height="5.3" fill="#b5c9e0"/><rect x="160" y="259.2" width="5.3" height="5.3" fill="#7294d0"/><rect x="165" y="259.2" width="30.3" height="5.3" fill="#b5c9e0"/><rect x="15" y="264.2" width="40.3" height="5.3" fill="#f4ad78"/><rect x="55" y="264.2" width="10.3" height="5.3" fill="#f0f1c2"/><rect x="65" y="264.2" width="5.3" height="5.3" fill="#e1e6cd"/><rect x="70" y="264.2" width="5.3" height="5.3" fill="#b5c9e0"/><rect x="75" y="264.2" width="10.3" height="5.3" fill="#f0f1c2"/><rect x="85" y="264.2" width="10.3" height="5.3" fill="#e1e6cd"/><rect x="95" y="264.2" width="20.3" height="5.3" fill="#f0f1c2"/><rect x="115" y="264.2" width="10.3" height="5.3" fill="#e1e6cd"/><rect x="125" y="264.2" width="5.3" height="5.3" fill="#f0f1c2"/><rect x="130" y="264.2" width="10.3" height="5.3" fill="#e1e6cd"/><rect x="140" y="264.2" width="5.3" height="5.3" fill="#b5c9e0"/><rect x="145" y="264.2" width="5.3" height="5.3" fill="#7294d0"/><rect x="150" y="264.2" width="5.3" height="5.3" fill="#b5c9e0"/><rect x="155" y="264.2" width="5.3" height="5.3" fill="#f0f1c2"/><rect x="160" y="264.2" width="5.3" height="5.3" fill="#7294d0"/><rect x="165" y="264.2" width="30.3" height="5.3" fill="#b5c9e0"/><rect x="15" y="269.2" width="25.3" height="5.3" fill="#f0f1c2"/><rect x="40" y="269.2" width="15.3" height="5.3" fill="#f4ad78"/><rect x="55" y="269.2" width="5.3" height="5.3" fill="#b5c9e0"/><rect x="60" y="269.2" width="20.3" height="5.3" fill="#7294d0"/><rect x="80" y="269.2" width="5.3" height="5.3" fill="#e1e6cd"/><rect x="85" y="269.2" width="5.3" height="5.3" fill="#f0f1c2"/><rect x="90" y="269.2" width="10.3" height="5.3" fill="#e1e6cd"/><rect x="100" y="269.2" width="10.3" height="5.3" fill="#f0f1c2"/><rect x="110" y="269.2" width="5.3" height="5.3" fill="#e1e6cd"/><rect x="115" y="269.2" width="5.3" height="5.3" fill="#f0f1c2"/><rect x="120" y="269.2" width="5.3" height="5.3" fill="#f4ad78"/><rect x="125" y="269.2" width="5.3" height="5.3" fill="#f0f1c2"/><rect x="130" y="269.2" width="10.3" height="5.3" fill="#e1e6cd"/><rect x="140" y="269.2" width="5.3" height="5.3" fill="#f0f1c2"/><rect x="145" y="269.2" width="5.3" height="5.3" fill="#7294d0"/><rect x="150" y="269.2" width="5.3" height="5.3" fill="#b5c9e0"/><rect x="155" y="269.2" width="5.3" height="5.3" fill="#f0f1c2"/><rect x="160" y="269.2" width="5.3" height="5.3" fill="#7294d0"/><rect x="165" y="269.2" width="30.3" height="5.3" fill="#b5c9e0"/><rect x="15" y="274.2" width="25.3" height="5.3" fill="#f4ad78"/><rect x="40" y="274.2" width="15.3" height="5.3" fill="#b5c9e0"/><rect x="55" y="274.2" width="5.3" height="5.3" fill="#7294d0"/><rect x="60" y="274.2" width="5.3" height="5.3" fill="#4a70c6"/><rect x="65" y="274.2" width="5.3" height="5.3" fill="#7294d0"/><rect x="70" y="274.2" width="5.3" height="5.3" fill="#b5c9e0"/><rect x="75" y="274.2" width="5.3" height="5.3" fill="#7294d0"/><rect x="80" y="274.2" width="10.3" height="5.3" fill="#b5c9e0"/><rect x="90" y="274.2" width="15.3" height="5.3" fill="#e1e6cd"/><rect x="105" y="274.2" width="5.3" height="5.3" fill="#f0f1c2"/><rect x="110" y="274.2" width="10.3" height="5.3" fill="#e1e6cd"/><rect x="120" y="274.2" width="5.3" height="5.3" fill="#f0f1c2"/><rect x="125" y="274.2" width="5.3" height="5.3" fill="#e1e6cd"/><rect x="130" y="274.2" width="10.3" height="5.3" fill="#7294d0"/><rect x="140" y="274.2" width="15.3" height="5.3" fill="#f0f1c2"/><rect x="155" y="274.2" width="40.3" height="5.3" fill="#7294d0"/><rect x="15" y="279.2" width="20.3" height="5.3" fill="#f8d19c"/><rect x="35" y="279.2" width="5.3" height="5.3" fill="#f4ad78"/><rect x="40" y="279.2" width="10.3" height="5.3" fill="#7294d0"/><rect x="50" y="279.2" width="5.3" height="5.3" fill="#4a70c6"/><rect x="55" y="279.2" width="5.3" height="5.3" fill="#7294d0"/><rect x="60" y="279.2" width="10.3" height="5.3" fill="#4a70c6"/><rect x="70" y="279.2" width="5.3" height="5.3" fill="#7294d0"/><rect x="75" y="279.2" width="10.3" height="5.3" fill="#e1e6cd"/><rect x="85" y="279.2" width="10.3" height="5.3" fill="#b5c9e0"/><rect x="95" y="279.2" width="10.3" height="5.3" fill="#e1e6cd"/><rect x="105" y="279.2" width="5.3" height="5.3" fill="#b5c9e0"/><rect x="110" y="279.2" width="10.3" height="5.3" fill="#f0f1c2"/><rect x="120" y="279.2" width="5.3" height="5.3" fill="#e1e6cd"/><rect x="125" y="279.2" width="10.3" height="5.3" fill="#7294d0"/><rect x="135" y="279.2" width="5.3" height="5.3" fill="#4a70c6"/><rect x="140" y="279.2" width="5.3" height="5.3" fill="#7294d0"/><rect x="145" y="279.2" width="5.3" height="5.3" fill="#b5c9e0"/><rect x="150" y="279.2" width="10.3" height="5.3" fill="#7294d0"/><rect x="160" y="279.2" width="5.3" height="5.3" fill="#4a70c6"/><rect x="165" y="279.2" width="5.3" height="5.3" fill="#7294d0"/><rect x="170" y="279.2" width="25.3" height="5.3" fill="#b5c9e0"/><rect x="15" y="284.2" width="20.3" height="5.3" fill="#f4ad78"/><rect x="35" y="284.2" width="5.3" height="5.3" fill="#f8d19c"/><rect x="40" y="284.2" width="10.3" height="5.3" fill="#f0f1c2"/><rect x="50" y="284.2" width="10.3" height="5.3" fill="#7294d0"/><rect x="60" y="284.2" width="15.3" height="5.3" fill="#4a70c6"/><rect x="75" y="284.2" width="5.3" height="5.3" fill="#b5c9e0"/><rect x="80" y="284.2" width="5.3" height="5.3" fill="#f0f1c2"/><rect x="85" y="284.2" width="5.3" height="5.3" fill="#e1e6cd"/><rect x="90" y="284.2" width="5.3" height="5.3" fill="#b5c9e0"/><rect x="95" y="284.2" width="5.3" height="5.3" fill="#f0f1c2"/><rect x="100" y="284.2" width="5.3" height="5.3" fill="#e1e6cd"/><rect x="105" y="284.2" width="5.3" height="5.3" fill="#4a70c6"/><rect x="110" y="284.2" width="5.3" height="5.3" fill="#e1e6cd"/><rect x="115" y="284.2" width="5.3" height="5.3" fill="#f0f1c2"/><rect x="120" y="284.2" width="5.3" height="5.3" fill="#b5c9e0"/><rect x="125" y="284.2" width="5.3" height="5.3" fill="#7294d0"/><rect x="130" y="284.2" width="5.3" height="5.3" fill="#4a70c6"/><rect x="135" y="284.2" width="15.3" height="5.3" fill="#7294d0"/><rect x="150" y="284.2" width="5.3" height="5.3" fill="#4a70c6"/><rect x="155" y="284.2" width="40.3" height="5.3" fill="#7294d0"/><rect x="15" y="289.2" width="25.3" height="5.3" fill="#f4ad78"/><rect x="40" y="289.2" width="5.3" height="5.3" fill="#f8d19c"/><rect x="45" y="289.2" width="5.3" height="5.3" fill="#f4ad78"/><rect x="50" y="289.2" width="5.3" height="5.3" fill="#f0f1c2"/><rect x="55" y="289.2" width="5.3" height="5.3" fill="#b5c9e0"/><rect x="60" y="289.2" width="5.3" height="5.3" fill="#7294d0"/><rect x="65" y="289.2" width="5.3" height="5.3" fill="#4a70c6"/><rect x="70" y="289.2" width="10.3" height="5.3" fill="#f0f1c2"/><rect x="80" y="289.2" width="10.3" height="5.3" fill="#e1e6cd"/><rect x="90" y="289.2" width="5.3" height="5.3" fill="#f0f1c2"/><rect x="95" y="289.2" width="10.3" height="5.3" fill="#e1e6cd"/><rect x="105" y="289.2" width="5.3" height="5.3" fill="#4a70c6"/><rect x="110" y="289.2" width="20.3" height="5.3" fill="#f0f1c2"/><rect x="130" y="289.2" width="5.3" height="5.3" fill="#7294d0"/><rect x="135" y="289.2" width="5.3" height="5.3" fill="#b5c9e0"/><rect x="140" y="289.2" width="5.3" height="5.3" fill="#4a70c6"/><rect x="145" y="289.2" width="15.3" height="5.3" fill="#7294d0"/><rect x="160" y="289.2" width="5.3" height="5.3" fill="#b5c9e0"/><rect x="165" y="289.2" width="10.3" height="5.3" fill="#e1e6cd"/><rect x="175" y="289.2" width="20.3" height="5.3" fill="#b5c9e0"/><rect x="15" y="294.2" width="25.3" height="5.3" fill="#f4ad78"/><rect x="40" y="294.2" width="20.3" height="5.3" fill="#f0f1c2"/><rect x="60" y="294.2" width="10.3" height="5.3" fill="#7294d0"/><rect x="70" y="294.2" width="10.3" height="5.3" fill="#f0f1c2"/><rect x="80" y="294.2" width="5.3" height="5.3" fill="#7294d0"/><rect x="85" y="294.2" width="5.3" height="5.3" fill="#b5c9e0"/><rect x="90" y="294.2" width="5.3" height="5.3" fill="#e1e6cd"/><rect x="95" y="294.2" width="5.3" height="5.3" fill="#f0f1c2"/><rect x="100" y="294.2" width="5.3" height="5.3" fill="#e1e6cd"/><rect x="105" y="294.2" width="15.3" height="5.3" fill="#4a70c6"/><rect x="120" y="294.2" width="5.3" height="5.3" fill="#b5c9e0"/><rect x="125" y="294.2" width="35.3" height="5.3" fill="#7294d0"/><rect x="160" y="294.2" width="10.3" height="5.3" fill="#e1e6cd"/><rect x="170" y="294.2" width="5.3" height="5.3" fill="#b5c9e0"/><rect x="175" y="294.2" width="20.3" height="5.3" fill="#9db9da"/><rect x="15" y="299.2" width="15.3" height="5.3" fill="#f4ad78"/><rect x="30" y="299.2" width="20.3" height="5.3" fill="#f0f1c2"/><rect x="50" y="299.2" width="5.3" height="5.3" fill="#e1e6cd"/><rect x="55" y="299.2" width="20.3" height="5.3" fill="#7294d0"/><rect x="75" y="299.2" width="5.3" height="5.3" fill="#f0f1c2"/><rect x="80" y="299.2" width="25.3" height="5.3" fill="#7294d0"/><rect x="105" y="299.2" width="15.3" height="5.3" fill="#4a70c6"/><rect x="120" y="299.2" width="25.3" height="5.3" fill="#7294d0"/><rect x="145" y="299.2" width="50.3" height="5.3" fill="#9db9da"/><rect x="15" y="304.2" width="20.3" height="5.3" fill="#f4ad78"/><rect x="35" y="304.2" width="10.3" height="5.3" fill="#f0f1c2"/><rect x="45" y="304.2" width="5.3" height="5.3" fill="#e1e6cd"/><rect x="50" y="304.2" width="5.3" height="5.3" fill="#b5c9e0"/><rect x="55" y="304.2" width="35.3" height="5.3" fill="#7294d0"/><rect x="90" y="304.2" width="10.3" height="5.3" fill="#4a70c6"/><rect x="100" y="304.2" width="5.3" height="5.3" fill="#7294d0"/><rect x="105" y="304.2" width="5.3" height="5.3" fill="#4a70c6"/><rect x="110" y="304.2" width="30.3" height="5.3" fill="#7294d0"/><rect x="140" y="304.2" width="20.3" height="5.3" fill="#9db9da"/><rect x="160" y="304.2" width="15.3" height="5.3" fill="#b8cddc"/><rect x="175" y="304.2" width="20.3" height="5.3" fill="#9db9da"/><rect x="15" y="309.2" width="15.3" height="5.3" fill="#f4ad78"/><rect x="30" y="309.2" width="15.3" height="5.3" fill="#b5c9e0"/><rect x="45" y="309.2" width="5.3" height="5.3" fill="#9db9da"/><rect x="50" y="309.2" width="30.3" height="5.3" fill="#7294d0"/><rect x="80" y="309.2" width="5.3" height="5.3" fill="#9db9da"/><rect x="85" y="309.2" width="5.3" height="5.3" fill="#7294d0"/><rect x="90" y="309.2" width="5.3" height="5.3" fill="#4a70c6"/><rect x="95" y="309.2" width="5.3" height="5.3" fill="#7294d0"/><rect x="100" y="309.2" width="5.3" height="5.3" fill="#4a70c6"/><rect x="105" y="309.2" width="30.3" height="5.3" fill="#7294d0"/><rect x="135" y="309.2" width="20.3" height="5.3" fill="#9db9da"/><rect x="155" y="309.2" width="15.3" height="5.3" fill="#b8cddc"/><rect x="170" y="309.2" width="25.3" height="5.3" fill="#9db9da"/><rect x="15" y="314.2" width="15.3" height="5.3" fill="#f0f1c2"/><rect x="30" y="314.2" width="20.3" height="5.3" fill="#9db9da"/><rect x="50" y="314.2" width="15.3" height="5.3" fill="#7294d0"/><rect x="65" y="314.2" width="5.3" height="5.3" fill="#4a70c6"/><rect x="70" y="314.2" width="10.3" height="5.3" fill="#7294d0"/><rect x="80" y="314.2" width="20.3" height="5.3" fill="#9db9da"/><rect x="100" y="314.2" width="5.3" height="5.3" fill="#7294d0"/><rect x="105" y="314.2" width="90.3" height="5.3" fill="#9db9da"/><rect x="15" y="319.2" width="45.3" height="5.3" fill="#9db9da"/><rect x="60" y="319.2" width="5.3" height="5.3" fill="#7294d0"/><rect x="65" y="319.2" width="5.3" height="5.3" fill="#4a70c6"/><rect x="70" y="319.2" width="5.3" height="5.3" fill="#7294d0"/><rect x="75" y="319.2" width="120.3" height="5.3" fill="#9db9da"/><rect x="15" y="324.2" width="180.3" height="5.3" fill="#9db9da"/><rect x="15" y="329.2" width="180.3" height="5.3" fill="#9db9da"/></g>
<path d="M46.8,217.2 L54.5,217.2 L55.0,229.2 L55.0,239.2 L53.5,243.7 L49.5,245.7 L48.8,251.2 L47.8,257.2 L46.8,261.2 L44.0,261.7 L44.8,257.2 L45.5,249.2 L46.0,239.2 L46.3,229.2Z" fill="#a0a0a0"/>
<path d="M40.7,263.7 L45.5,263.7 L46.0,268.2 L49.6,269.9 L53.5,272.7 L55.0,274.7 L53.5,276.8 L50.6,278.8 L45.7,280.8 L41.7,282.7 L38.0,281.2 L35.5,281.2 L36.0,289.2 L36.6,297.2 L36.0,301.2 L34.0,305.2 L31.0,309.2 L28.5,312.2 L26.0,314.7 L15.0,314.2 L15.0,277.2 L33.9,277.2 L34.8,274.9 L36.8,272.9 L38.8,269.9 L40.5,267.2Z" fill="#a0a0a0"/>
<path d="M95.8,209.2 L117.0,209.2 L116.0,217.2 L113.0,221.2 L109.0,226.7 L106.0,230.2 L103.7,233.6 L101.0,236.2 L98.8,238.5 L98.0,235.2 L97.3,226.7 L96.4,217.2Z" fill="#a0a0a0"/>
<path d="M95.4,216.2 L96.2,224.2 L96.9,232.2 L97.6,239.2 L98.5,241.7" fill="none" stroke="#e23b2a" stroke-width="1.5" stroke-linecap="round" stroke-linejoin="round"/>
<path d="M115.0,217.7 L113.5,220.7" fill="none" stroke="#e8553a" stroke-width="1.8" stroke-linecap="round" stroke-linejoin="round"/>
</g>
<path d="M46.61,211.37 A247.40,247.40 0 0 0 156.56,210.23 L181.97,316.64 A356.80,356.80 0 0 1 23.40,318.28 Z" fill="none" stroke="#333" stroke-width="0.9"/>
<text x="45.4" y="212.1" font-size="6.9" font-weight="bold" fill="#111" stroke="#111" stroke-width="0.1" text-anchor="end">55°N</text>
<text x="38.9" y="238.6" font-size="6.9" font-weight="bold" fill="#111" stroke="#111" stroke-width="0.1" text-anchor="end">50°N</text>
<text x="32.8" y="265.7" font-size="6.9" font-weight="bold" fill="#111" stroke="#111" stroke-width="0.1" text-anchor="end">45°N</text>
<text x="27" y="292.1" font-size="6.9" font-weight="bold" fill="#111" stroke="#111" stroke-width="0.1" text-anchor="end">40°N</text>
<text x="21" y="319.1" font-size="6.9" font-weight="bold" fill="#111" stroke="#111" stroke-width="0.1" text-anchor="end">35°N</text>
<text x="81" y="213.89999999999998" font-size="6.6" font-weight="bold" fill="#111" stroke="#111" stroke-width="0.1" text-anchor="middle" transform="rotate(4.2 81 213.89999999999998)">150°E</text>
<text x="112.2" y="214.29999999999998" font-size="6.6" font-weight="bold" fill="#111" stroke="#111" stroke-width="0.1" text-anchor="middle" transform="rotate(-3.0 112.2 214.29999999999998)">160°E</text>
<text x="143.8" y="211.7" font-size="6.6" font-weight="bold" fill="#111" stroke="#111" stroke-width="0.1" text-anchor="middle" transform="rotate(-10.0 143.8 211.7)">170°E</text>
<path d="M177.5,295.1 L192.3,255.8 L226.4,255.8" fill="none" stroke="#555" stroke-width="0.7"/>
<circle cx="269" cy="247.4" r="42.8" fill="#7bbcf8"/>
<path d="M269.00,247.40 L269.00,204.60 A42.8,42.8 0 0 1 284.25,207.41 Z" fill="#fdc17f"/>
<path d="M269.00,247.40 L284.25,207.41 A42.8,42.8 0 0 1 287.47,208.79 Z" fill="url(#hatchO)"/>
<line x1="269" y1="247.4" x2="269.00" y2="204.60" stroke="#3a3a3a" stroke-width="0.5"/>
<line x1="269" y1="247.4" x2="287.47" y2="208.79" stroke="#3a3a3a" stroke-width="0.5"/>
<circle cx="269" cy="247.4" r="42.8" fill="none" stroke="#151515" stroke-width="1.2"/>
<line x1="278.5" y1="228.8" x2="317.8" y2="239.2" stroke="#666" stroke-width="0.7"/>
<text x="272" y="198.7" font-size="11.5" fill="#111" stroke="#111" stroke-width="0.25" textLength="33.6" lengthAdjust="spacingAndGlyphs">5.80%</text>
<text x="272" y="211" font-size="11.5" fill="#111" stroke="#111" stroke-width="0.25" textLength="83.6" lengthAdjust="spacingAndGlyphs">underestimation</text>
<text x="322.7" y="236.7" font-size="11.5" fill="#111" stroke="#111" stroke-width="0.25" textLength="32.5" lengthAdjust="spacingAndGlyphs">1.30%</text>
<text x="319.8" y="250" font-size="11.5" fill="#111" stroke="#111" stroke-width="0.25" textLength="36.8" lengthAdjust="spacingAndGlyphs">outliers</text>
<text x="248.2" y="262.3" font-size="11.5" fill="#111" stroke="#111" stroke-width="0.25" textLength="39.3" lengthAdjust="spacingAndGlyphs">92.90%</text>
<text x="232.9" y="275.5" font-size="11.5" fill="#111" stroke="#111" stroke-width="0.25" textLength="76.2" lengthAdjust="spacingAndGlyphs">overestimation</text>
<rect x="194.0" y="295.9" width="154.5" height="44.5" fill="none" stroke="#444" stroke-width="0.8" stroke-dasharray="1,1"/>
<text x="198" y="304.7" font-size="10.2" fill="#1a1a1a" stroke="#1a1a1a" stroke-width="0.32">averaged improved percentage:</text>
<text x="198" y="321.9" font-size="10.2" fill="#1a1a1a" stroke="#1a1a1a" stroke-width="0.32">8.76% for underestimation</text>
<text x="198" y="337.5" font-size="10.2" fill="#1a1a1a" stroke="#1a1a1a" stroke-width="0.32">22.69% for overestimation</text>
<text x="9.5" y="357.9" font-size="11.8" fill="#111" stroke="#111" stroke-width="0.25" textLength="246" lengthAdjust="spacingAndGlyphs">(c) Difference in 2020.10 (La Niña, MEI = −1.2)</text>
<clipPath id="clip2"><path d="M46.61,372.77 A247.40,247.40 0 0 0 156.56,371.63 L181.97,478.04 A356.80,356.80 0 0 1 23.40,479.68 Z"/></clipPath>
<g clip-path="url(#clip2)">
<g filter="url(#bl5)"><rect x="15" y="365.6" width="45.3" height="5.3" fill="#b5c9e0"/><rect x="60" y="365.6" width="10.3" height="5.3" fill="#e1e6cd"/><rect x="70" y="365.6" width="5.3" height="5.3" fill="#b5c9e0"/><rect x="75" y="365.6" width="30.3" height="5.3" fill="#e1e6cd"/><rect x="105" y="365.6" width="15.3" height="5.3" fill="#b5c9e0"/><rect x="120" y="365.6" width="10.3" height="5.3" fill="#e1e6cd"/><rect x="130" y="365.6" width="10.3" height="5.3" fill="#f0f1c2"/><rect x="140" y="365.6" width="55.3" height="5.3" fill="#e1e6cd"/><rect x="15" y="370.6" width="45.3" height="5.3" fill="#b5c9e0"/><rect x="60" y="370.6" width="10.3" height="5.3" fill="#e1e6cd"/><rect x="70" y="370.6" width="5.3" height="5.3" fill="#b5c9e0"/><rect x="75" y="370.6" width="30.3" height="5.3" fill="#e1e6cd"/><rect x="105" y="370.6" width="15.3" height="5.3" fill="#b5c9e0"/><rect x="120" y="370.6" width="10.3" height="5.3" fill="#e1e6cd"/><rect x="130" y="370.6" width="10.3" height="5.3" fill="#f0f1c2"/><rect x="140" y="370.6" width="55.3" height="5.3" fill="#e1e6cd"/><rect x="15" y="375.6" width="45.3" height="5.3" fill="#b5c9e0"/><rect x="60" y="375.6" width="15.3" height="5.3" fill="#e1e6cd"/><rect x="75" y="375.6" width="10.3" height="5.3" fill="#b5c9e0"/><rect x="85" y="375.6" width="20.3" height="5.3" fill="#e1e6cd"/><rect x="105" y="375.6" width="15.3" height="5.3" fill="#7294d0"/><rect x="120" y="375.6" width="5.3" height="5.3" fill="#4a70c6"/><rect x="125" y="375.6" width="5.3" height="5.3" fill="#e1e6cd"/><rect x="130" y="375.6" width="10.3" height="5.3" fill="#f0f1c2"/><rect x="140" y="375.6" width="55.3" height="5.3" fill="#e1e6cd"/><rect x="15" y="380.6" width="35.3" height="5.3" fill="#b5c9e0"/><rect x="50" y="380.6" width="20.3" height="5.3" fill="#e1e6cd"/><rect x="70" y="380.6" width="15.3" height="5.3" fill="#b5c9e0"/><rect x="85" y="380.6" width="15.3" height="5.3" fill="#e1e6cd"/><rect x="100" y="380.6" width="15.3" height="5.3" fill="#4a70c6"/><rect x="115" y="380.6" width="5.3" height="5.3" fill="#7294d0"/><rect x="120" y="380.6" width="5.3" height="5.3" fill="#e1e6cd"/><rect x="125" y="380.6" width="15.3" height="5.3" fill="#f0f1c2"/><rect x="140" y="380.6" width="55.3" height="5.3" fill="#e1e6cd"/><rect x="15" y="385.6" width="35.3" height="5.3" fill="#4a70c6"/><rect x="50" y="385.6" width="20.3" height="5.3" fill="#e1e6cd"/><rect x="70" y="385.6" width="5.3" height="5.3" fill="#b5c9e0"/><rect x="75" y="385.6" width="5.3" height="5.3" fill="#e1e6cd"/><rect x="80" y="385.6" width="5.3" height="5.3" fill="#b5c9e0"/><rect x="85" y="385.6" width="10.3" height="5.3" fill="#e1e6cd"/><rect x="95" y="385.6" width="5.3" height="5.3" fill="#e66a4e"/><rect x="100" y="385.6" width="10.3" height="5.3" fill="#4a70c6"/><rect x="110" y="385.6" width="5.3" height="5.3" fill="#7294d0"/><rect x="115" y="385.6" width="5.3" height="5.3" fill="#e1e6cd"/><rect x="120" y="385.6" width="20.3" height="5.3" fill="#f0f1c2"/><rect x="140" y="385.6" width="55.3" height="5.3" fill="#e1e6cd"/><rect x="15" y="390.6" width="30.3" height="5.3" fill="#b5c9e0"/><rect x="45" y="390.6" width="5.3" height="5.3" fill="#4a70c6"/><rect x="50" y="390.6" width="10.3" height="5.3" fill="#e1e6cd"/><rect x="60" y="390.6" width="5.3" height="5.3" fill="#b5c9e0"/><rect x="65" y="390.6" width="5.3" height="5.3" fill="#7294d0"/><rect x="70" y="390.6" width="5.3" height="5.3" fill="#b5c9e0"/><rect x="75" y="390.6" width="20.3" height="5.3" fill="#e1e6cd"/><rect x="95" y="390.6" width="5.3" height="5.3" fill="#e66a4e"/><rect x="100" y="390.6" width="10.3" height="5.3" fill="#4a70c6"/><rect x="110" y="390.6" width="5.3" height="5.3" fill="#e1e6cd"/><rect x="115" y="390.6" width="30.3" height="5.3" fill="#f0f1c2"/><rect x="145" y="390.6" width="50.3" height="5.3" fill="#e1e6cd"/><rect x="15" y="395.6" width="30.3" height="5.3" fill="#e1e6cd"/><rect x="45" y="395.6" width="5.3" height="5.3" fill="#b5c9e0"/><rect x="50" y="395.6" width="10.3" height="5.3" fill="#e1e6cd"/><rect x="60" y="395.6" width="5.3" height="5.3" fill="#b5c9e0"/><rect x="65" y="395.6" width="10.3" height="5.3" fill="#7294d0"/><rect x="75" y="395.6" width="15.3" height="5.3" fill="#e1e6cd"/><rect x="90" y="395.6" width="10.3" height="5.3" fill="#b5c9e0"/><rect x="100" y="395.6" width="5.3" height="5.3" fill="#4a70c6"/><rect x="105" y="395.6" width="5.3" height="5.3" fill="#7294d0"/><rect x="110" y="395.6" width="40.3" height="5.3" fill="#f0f1c2"/><rect x="150" y="395.6" width="45.3" height="5.3" fill="#e1e6cd"/><rect x="15" y="400.6" width="35.3" height="5.3" fill="#f4ad78"/><rect x="50" y="400.6" width="15.3" height="5.3" fill="#e1e6cd"/><rect x="65" y="400.6" width="5.3" height="5.3" fill="#b5c9e0"/><rect x="70" y="400.6" width="5.3" height="5.3" fill="#e1e6cd"/><rect x="75" y="400.6" width="5.3" height="5.3" fill="#f0f1c2"/><rect x="80" y="400.6" width="10.3" height="5.3" fill="#e1e6cd"/><rect x="90" y="400.6" width="5.3" height="5.3" fill="#7294d0"/><rect x="95" y="400.6" width="10.3" height="5.3" fill="#4a70c6"/><rect x="105" y="400.6" width="5.3" height="5.3" fill="#7294d0"/><rect x="110" y="400.6" width="5.3" height="5.3" fill="#e1e6cd"/><rect x="115" y="400.6" width="40.3" height="5.3" fill="#f0f1c2"/><rect x="155" y="400.6" width="5.3" height="5.3" fill="#e1e6cd"/><rect x="160" y="400.6" width="35.3" height="5.3" fill="#f0f1c2"/><rect x="15" y="405.6" width="25.3" height="5.3" fill="#f4ad78"/><rect x="40" y="405.6" width="15.3" height="5.3" fill="#e66a4e"/><rect x="55" y="405.6" width="5.3" height="5.3" fill="#e1e6cd"/><rect x="60" y="405.6" width="5.3" height="5.3" fill="#f0f1c2"/><rect x="65" y="405.6" width="5.3" height="5.3" fill="#e1e6cd"/><rect x="70" y="405.6" width="10.3" height="5.3" fill="#f0f1c2"/><rect x="80" y="405.6" width="5.3" height="5.3" fill="#e1e6cd"/><rect x="85" y="405.6" width="5.3" height="5.3" fill="#b5c9e0"/><rect x="90" y="405.6" width="10.3" height="5.3" fill="#4a70c6"/><rect x="100" y="405.6" width="5.3" height="5.3" fill="#7294d0"/><rect x="105" y="405.6" width="5.3" height="5.3" fill="#b5c9e0"/><rect x="110" y="405.6" width="5.3" height="5.3" fill="#e1e6cd"/><rect x="115" y="405.6" width="15.3" height="5.3" fill="#f0f1c2"/><rect x="130" y="405.6" width="5.3" height="5.3" fill="#f8d19c"/><rect x="135" y="405.6" width="60.3" height="5.3" fill="#f0f1c2"/><rect x="15" y="410.6" width="30.3" height="5.3" fill="#e1e6cd"/><rect x="45" y="410.6" width="10.3" height="5.3" fill="#7294d0"/><rect x="55" y="410.6" width="5.3" height="5.3" fill="#b5c9e0"/><rect x="60" y="410.6" width="25.3" height="5.3" fill="#e1e6cd"/><rect x="85" y="410.6" width="10.3" height="5.3" fill="#b5c9e0"/><rect x="95" y="410.6" width="30.3" height="5.3" fill="#e1e6cd"/><rect x="125" y="410.6" width="5.3" height="5.3" fill="#b5c9e0"/><rect x="130" y="410.6" width="5.3" height="5.3" fill="#e1e6cd"/><rect x="135" y="410.6" width="5.3" height="5.3" fill="#f8d19c"/><rect x="140" y="410.6" width="5.3" height="5.3" fill="#f0f1c2"/><rect x="145" y="410.6" width="50.3" height="5.3" fill="#e1e6cd"/><rect x="15" y="415.6" width="30.3" height="5.3" fill="#e1e6cd"/><rect x="45" y="415.6" width="10.3" height="5.3" fill="#7294d0"/><rect x="55" y="415.6" width="30.3" height="5.3" fill="#e1e6cd"/><rect x="85" y="415.6" width="5.3" height="5.3" fill="#b5c9e0"/><rect x="90" y="415.6" width="5.3" height="5.3" fill="#7294d0"/><rect x="95" y="415.6" width="5.3" height="5.3" fill="#b5c9e0"/><rect x="100" y="415.6" width="40.3" height="5.3" fill="#e1e6cd"/><rect x="140" y="415.6" width="10.3" height="5.3" fill="#f0f1c2"/><rect x="150" y="415.6" width="5.3" height="5.3" fill="#e1e6cd"/><rect x="155" y="415.6" width="40.3" height="5.3" fill="#b5c9e0"/><rect x="15" y="420.6" width="25.3" height="5.3" fill="#e1e6cd"/><rect x="40" y="420.6" width="5.3" height="5.3" fill="#f0f1c2"/><rect x="45" y="420.6" width="5.3" height="5.3" fill="#e66a4e"/><rect x="50" y="420.6" width="5.3" height="5.3" fill="#e1e6cd"/><rect x="55" y="420.6" width="5.3" height="5.3" fill="#f0f1c2"/><rect x="60" y="420.6" width="10.3" height="5.3" fill="#e1e6cd"/><rect x="70" y="420.6" width="15.3" height="5.3" fill="#b5c9e0"/><rect x="85" y="420.6" width="5.3" height="5.3" fill="#e1e6cd"/><rect x="90" y="420.6" width="5.3" height="5.3" fill="#b5c9e0"/><rect x="95" y="420.6" width="5.3" height="5.3" fill="#e1e6cd"/><rect x="100" y="420.6" width="5.3" height="5.3" fill="#f0f1c2"/><rect x="105" y="420.6" width="15.3" height="5.3" fill="#e1e6cd"/><rect x="120" y="420.6" width="5.3" height="5.3" fill="#b5c9e0"/><rect x="125" y="420.6" width="5.3" height="5.3" fill="#f8d19c"/><rect x="130" y="420.6" width="20.3" height="5.3" fill="#e1e6cd"/><rect x="150" y="420.6" width="5.3" height="5.3" fill="#b5c9e0"/><rect x="155" y="420.6" width="10.3" height="5.3" fill="#7294d0"/><rect x="165" y="420.6" width="30.3" height="5.3" fill="#b5c9e0"/><rect x="15" y="425.6" width="25.3" height="5.3" fill="#e1e6cd"/><rect x="40" y="425.6" width="5.3" height="5.3" fill="#e66a4e"/><rect x="45" y="425.6" width="15.3" height="5.3" fill="#f0f1c2"/><rect x="60" y="425.6" width="10.3" height="5.3" fill="#e1e6cd"/><rect x="70" y="425.6" width="10.3" height="5.3" fill="#b5c9e0"/><rect x="80" y="425.6" width="15.3" height="5.3" fill="#e1e6cd"/><rect x="95" y="425.6" width="5.3" height="5.3" fill="#b5c9e0"/><rect x="100" y="425.6" width="5.3" height="5.3" fill="#f0f1c2"/><rect x="105" y="425.6" width="5.3" height="5.3" fill="#e1e6cd"/><rect x="110" y="425.6" width="5.3" height="5.3" fill="#b5c9e0"/><rect x="115" y="425.6" width="10.3" height="5.3" fill="#e1e6cd"/><rect x="125" y="425.6" width="5.3" height="5.3" fill="#b5c9e0"/><rect x="130" y="425.6" width="10.3" height="5.3" fill="#e1e6cd"/><rect x="140" y="425.6" width="5.3" height="5.3" fill="#f8d19c"/><rect x="145" y="425.6" width="5.3" height="5.3" fill="#e1e6cd"/><rect x="150" y="425.6" width="5.3" height="5.3" fill="#b5c9e0"/><rect x="155" y="425.6" width="10.3" height="5.3" fill="#7294d0"/><rect x="165" y="425.6" width="30.3" height="5.3" fill="#b5c9e0"/><rect x="15" y="430.6" width="25.3" height="5.3" fill="#e1e6cd"/><rect x="40" y="430.6" width="15.3" height="5.3" fill="#e66a4e"/><rect x="55" y="430.6" width="10.3" height="5.3" fill="#e1e6cd"/><rect x="65" y="430.6" width="10.3" height="5.3" fill="#b5c9e0"/><rect x="75" y="430.6" width="5.3" height="5.3" fill="#e1e6cd"/><rect x="80" y="430.6" width="5.3" height="5.3" fill="#b5c9e0"/><rect x="85" y="430.6" width="5.3" height="5.3" fill="#7294d0"/><rect x="90" y="430.6" width="5.3" height="5.3" fill="#e1e6cd"/><rect x="95" y="430.6" width="5.3" height="5.3" fill="#b5c9e0"/><rect x="100" y="430.6" width="5.3" height="5.3" fill="#e1e6cd"/><rect x="105" y="430.6" width="5.3" height="5.3" fill="#b5c9e0"/><rect x="110" y="430.6" width="20.3" height="5.3" fill="#e1e6cd"/><rect x="130" y="430.6" width="5.3" height="5.3" fill="#f8d19c"/><rect x="135" y="430.6" width="5.3" height="5.3" fill="#e1e6cd"/><rect x="140" y="430.6" width="10.3" height="5.3" fill="#f8d19c"/><rect x="150" y="430.6" width="5.3" height="5.3" fill="#e1e6cd"/><rect x="155" y="430.6" width="5.3" height="5.3" fill="#7294d0"/><rect x="160" y="430.6" width="5.3" height="5.3" fill="#b5c9e0"/><rect x="165" y="430.6" width="30.3" height="5.3" fill="#7294d0"/><rect x="15" y="435.6" width="25.3" height="5.3" fill="#e1e6cd"/><rect x="40" y="435.6" width="20.3" height="5.3" fill="#e66a4e"/><rect x="60" y="435.6" width="20.3" height="5.3" fill="#e1e6cd"/><rect x="80" y="435.6" width="5.3" height="5.3" fill="#7294d0"/><rect x="85" y="435.6" width="5.3" height="5.3" fill="#b5c9e0"/><rect x="90" y="435.6" width="15.3" height="5.3" fill="#e1e6cd"/><rect x="105" y="435.6" width="5.3" height="5.3" fill="#4a70c6"/><rect x="110" y="435.6" width="5.3" height="5.3" fill="#7294d0"/><rect x="115" y="435.6" width="5.3" height="5.3" fill="#e1e6cd"/><rect x="120" y="435.6" width="5.3" height="5.3" fill="#b5c9e0"/><rect x="125" y="435.6" width="5.3" height="5.3" fill="#e1e6cd"/><rect x="130" y="435.6" width="5.3" height="5.3" fill="#b5c9e0"/><rect x="135" y="435.6" width="5.3" height="5.3" fill="#7294d0"/><rect x="140" y="435.6" width="5.3" height="5.3" fill="#e1e6cd"/><rect x="145" y="435.6" width="5.3" height="5.3" fill="#f8d19c"/><rect x="150" y="435.6" width="5.3" height="5.3" fill="#7294d0"/><rect x="155" y="435.6" width="5.3" height="5.3" fill="#4a70c6"/><rect x="160" y="435.6" width="35.3" height="5.3" fill="#7294d0"/><rect x="15" y="440.6" width="25.3" height="5.3" fill="#e1e6cd"/><rect x="40" y="440.6" width="10.3" height="5.3" fill="#e66a4e"/><rect x="50" y="440.6" width="5.3" height="5.3" fill="#e1e6cd"/><rect x="55" y="440.6" width="5.3" height="5.3" fill="#f0f1c2"/><rect x="60" y="440.6" width="5.3" height="5.3" fill="#e1e6cd"/><rect x="65" y="440.6" width="10.3" height="5.3" fill="#f0f1c2"/><rect x="75" y="440.6" width="5.3" height="5.3" fill="#e1e6cd"/><rect x="80" y="440.6" width="5.3" height="5.3" fill="#b5c9e0"/><rect x="85" y="440.6" width="10.3" height="5.3" fill="#e1e6cd"/><rect x="95" y="440.6" width="10.3" height="5.3" fill="#7294d0"/><rect x="105" y="440.6" width="10.3" height="5.3" fill="#4a70c6"/><rect x="115" y="440.6" width="5.3" height="5.3" fill="#7294d0"/><rect x="120" y="440.6" width="15.3" height="5.3" fill="#e1e6cd"/><rect x="135" y="440.6" width="10.3" height="5.3" fill="#f8d19c"/><rect x="145" y="440.6" width="5.3" height="5.3" fill="#e1e6cd"/><rect x="150" y="440.6" width="10.3" height="5.3" fill="#4a70c6"/><rect x="160" y="440.6" width="10.3" height="5.3" fill="#7294d0"/><rect x="170" y="440.6" width="25.3" height="5.3" fill="#b5c9e0"/><rect x="15" y="445.6" width="25.3" height="5.3" fill="#e1e6cd"/><rect x="40" y="445.6" width="5.3" height="5.3" fill="#f0f1c2"/><rect x="45" y="445.6" width="10.3" height="5.3" fill="#b5c9e0"/><rect x="55" y="445.6" width="5.3" height="5.3" fill="#e1e6cd"/><rect x="60" y="445.6" width="20.3" height="5.3" fill="#f0f1c2"/><rect x="80" y="445.6" width="5.3" height="5.3" fill="#e1e6cd"/><rect x="85" y="445.6" width="5.3" height="5.3" fill="#f4ad78"/><rect x="90" y="445.6" width="5.3" height="5.3" fill="#7294d0"/><rect x="95" y="445.6" width="15.3" height="5.3" fill="#4a70c6"/><rect x="110" y="445.6" width="5.3" height="5.3" fill="#7294d0"/><rect x="115" y="445.6" width="5.3" height="5.3" fill="#b5c9e0"/><rect x="120" y="445.6" width="5.3" height="5.3" fill="#e1e6cd"/><rect x="125" y="445.6" width="10.3" height="5.3" fill="#7294d0"/><rect x="135" y="445.6" width="5.3" height="5.3" fill="#f4ad78"/><rect x="140" y="445.6" width="10.3" height="5.3" fill="#7294d0"/><rect x="150" y="445.6" width="5.3" height="5.3" fill="#4a70c6"/><rect x="155" y="445.6" width="5.3" height="5.3" fill="#7294d0"/><rect x="160" y="445.6" width="5.3" height="5.3" fill="#b5c9e0"/><rect x="165" y="445.6" width="30.3" height="5.3" fill="#7294d0"/><rect x="15" y="450.6" width="35.3" height="5.3" fill="#f0f1c2"/><rect x="50" y="450.6" width="5.3" height="5.3" fill="#f8d19c"/><rect x="55" y="450.6" width="5.3" height="5.3" fill="#f4ad78"/><rect x="60" y="450.6" width="15.3" height="5.3" fill="#f8d19c"/><rect x="75" y="450.6" width="5.3" height="5.3" fill="#e1e6cd"/><rect x="80" y="450.6" width="10.3" height="5.3" fill="#7294d0"/><rect x="90" y="450.6" width="5.3" height="5.3" fill="#b5c9e0"/><rect x="95" y="450.6" width="10.3" height="5.3" fill="#7294d0"/><rect x="105" y="450.6" width="5.3" height="5.3" fill="#4a70c6"/><rect x="110" y="450.6" width="10.3" height="5.3" fill="#7294d0"/><rect x="120" y="450.6" width="5.3" height="5.3" fill="#b5c9e0"/><rect x="125" y="450.6" width="5.3" height="5.3" fill="#e1e6cd"/><rect x="130" y="450.6" width="5.3" height="5.3" fill="#7294d0"/><rect x="135" y="450.6" width="10.3" height="5.3" fill="#4a70c6"/><rect x="145" y="450.6" width="5.3" height="5.3" fill="#7294d0"/><rect x="150" y="450.6" width="5.3" height="5.3" fill="#4a70c6"/><rect x="155" y="450.6" width="5.3" height="5.3" fill="#b5c9e0"/><rect x="160" y="450.6" width="5.3" height="5.3" fill="#7294d0"/><rect x="165" y="450.6" width="10.3" height="5.3" fill="#4a70c6"/><rect x="175" y="450.6" width="20.3" height="5.3" fill="#7294d0"/><rect x="15" y="455.6" width="40.3" height="5.3" fill="#f0f1c2"/><rect x="55" y="455.6" width="5.3" height="5.3" fill="#b5c9e0"/><rect x="60" y="455.6" width="5.3" height="5.3" fill="#f0f1c2"/><rect x="65" y="455.6" width="5.3" height="5.3" fill="#e1e6cd"/><rect x="70" y="455.6" width="5.3" height="5.3" fill="#7294d0"/><rect x="75" y="455.6" width="5.3" height="5.3" fill="#4a70c6"/><rect x="80" y="455.6" width="5.3" height="5.3" fill="#7294d0"/><rect x="85" y="455.6" width="5.3" height="5.3" fill="#4a70c6"/><rect x="90" y="455.6" width="10.3" height="5.3" fill="#7294d0"/><rect x="100" y="455.6" width="5.3" height="5.3" fill="#b5c9e0"/><rect x="105" y="455.6" width="10.3" height="5.3" fill="#4a70c6"/><rect x="115" y="455.6" width="10.3" height="5.3" fill="#7294d0"/><rect x="125" y="455.6" width="10.3" height="5.3" fill="#4a70c6"/><rect x="135" y="455.6" width="5.3" height="5.3" fill="#7294d0"/><rect x="140" y="455.6" width="5.3" height="5.3" fill="#4a70c6"/><rect x="145" y="455.6" width="5.3" height="5.3" fill="#7294d0"/><rect x="150" y="455.6" width="5.3" height="5.3" fill="#e1e6cd"/><rect x="155" y="455.6" width="5.3" height="5.3" fill="#b5c9e0"/><rect x="160" y="455.6" width="15.3" height="5.3" fill="#4a70c6"/><rect x="175" y="455.6" width="20.3" height="5.3" fill="#7294d0"/><rect x="15" y="460.6" width="15.3" height="5.3" fill="#f4ad78"/><rect x="30" y="460.6" width="15.3" height="5.3" fill="#f0f1c2"/><rect x="45" y="460.6" width="5.3" height="5.3" fill="#b5c9e0"/><rect x="50" y="460.6" width="30.3" height="5.3" fill="#7294d0"/><rect x="80" y="460.6" width="10.3" height="5.3" fill="#4a70c6"/><rect x="90" y="460.6" width="10.3" height="5.3" fill="#7294d0"/><rect x="100" y="460.6" width="5.3" height="5.3" fill="#4a70c6"/><rect x="105" y="460.6" width="15.3" height="5.3" fill="#7294d0"/><rect x="120" y="460.6" width="5.3" height="5.3" fill="#b5c9e0"/><rect x="125" y="460.6" width="5.3" height="5.3" fill="#7294d0"/><rect x="130" y="460.6" width="5.3" height="5.3" fill="#4a70c6"/><rect x="135" y="460.6" width="10.3" height="5.3" fill="#7294d0"/><rect x="145" y="460.6" width="5.3" height="5.3" fill="#4a70c6"/><rect x="150" y="460.6" width="20.3" height="5.3" fill="#7294d0"/><rect x="170" y="460.6" width="25.3" height="5.3" fill="#9db9da"/><rect x="15" y="465.6" width="20.3" height="5.3" fill="#f4ad78"/><rect x="35" y="465.6" width="5.3" height="5.3" fill="#f0f1c2"/><rect x="40" y="465.6" width="5.3" height="5.3" fill="#b5c9e0"/><rect x="45" y="465.6" width="35.3" height="5.3" fill="#7294d0"/><rect x="80" y="465.6" width="5.3" height="5.3" fill="#4a70c6"/><rect x="85" y="465.6" width="5.3" height="5.3" fill="#7294d0"/><rect x="90" y="465.6" width="15.3" height="5.3" fill="#4a70c6"/><rect x="105" y="465.6" width="10.3" height="5.3" fill="#7294d0"/><rect x="115" y="465.6" width="15.3" height="5.3" fill="#9db9da"/><rect x="130" y="465.6" width="5.3" height="5.3" fill="#4a70c6"/><rect x="135" y="465.6" width="5.3" height="5.3" fill="#7294d0"/><rect x="140" y="465.6" width="5.3" height="5.3" fill="#b5c9e0"/><rect x="145" y="465.6" width="10.3" height="5.3" fill="#7294d0"/><rect x="155" y="465.6" width="40.3" height="5.3" fill="#9db9da"/><rect x="15" y="470.6" width="15.3" height="5.3" fill="#f4ad78"/><rect x="30" y="470.6" width="5.3" height="5.3" fill="#f0f1c2"/><rect x="35" y="470.6" width="5.3" height="5.3" fill="#b5c9e0"/><rect x="40" y="470.6" width="5.3" height="5.3" fill="#e1e6cd"/><rect x="45" y="470.6" width="10.3" height="5.3" fill="#7294d0"/><rect x="55" y="470.6" width="5.3" height="5.3" fill="#9db9da"/><rect x="60" y="470.6" width="5.3" height="5.3" fill="#7294d0"/><rect x="65" y="470.6" width="15.3" height="5.3" fill="#9db9da"/><rect x="80" y="470.6" width="15.3" height="5.3" fill="#4a70c6"/><rect x="95" y="470.6" width="10.3" height="5.3" fill="#7294d0"/><rect x="105" y="470.6" width="40.3" height="5.3" fill="#9db9da"/><rect x="145" y="470.6" width="5.3" height="5.3" fill="#7294d0"/><rect x="150" y="470.6" width="45.3" height="5.3" fill="#9db9da"/><rect x="15" y="475.6" width="15.3" height="5.3" fill="#f0f1c2"/><rect x="30" y="475.6" width="5.3" height="5.3" fill="#9db9da"/><rect x="35" y="475.6" width="5.3" height="5.3" fill="#b5c9e0"/><rect x="40" y="475.6" width="15.3" height="5.3" fill="#4a70c6"/><rect x="55" y="475.6" width="25.3" height="5.3" fill="#9db9da"/><rect x="80" y="475.6" width="5.3" height="5.3" fill="#7294d0"/><rect x="85" y="475.6" width="5.3" height="5.3" fill="#4a70c6"/><rect x="90" y="475.6" width="5.3" height="5.3" fill="#7294d0"/><rect x="95" y="475.6" width="20.3" height="5.3" fill="#9db9da"/><rect x="115" y="475.6" width="10.3" height="5.3" fill="#b8cddc"/><rect x="125" y="475.6" width="70.3" height="5.3" fill="#9db9da"/><rect x="15" y="480.6" width="25.3" height="5.3" fill="#9db9da"/><rect x="40" y="480.6" width="10.3" height="5.3" fill="#4a70c6"/><rect x="50" y="480.6" width="30.3" height="5.3" fill="#9db9da"/><rect x="80" y="480.6" width="5.3" height="5.3" fill="#4a70c6"/><rect x="85" y="480.6" width="5.3" height="5.3" fill="#7294d0"/><rect x="90" y="480.6" width="15.3" height="5.3" fill="#9db9da"/><rect x="105" y="480.6" width="10.3" height="5.3" fill="#b8cddc"/><rect x="115" y="480.6" width="80.3" height="5.3" fill="#9db9da"/><rect x="15" y="485.6" width="180.3" height="5.3" fill="#9db9da"/><rect x="15" y="490.6" width="180.3" height="5.3" fill="#9db9da"/></g>
<path d="M46.8,378.6 L54.5,378.6 L55.0,390.6 L55.0,400.6 L53.5,405.1 L49.5,407.1 L48.8,412.6 L47.8,418.6 L46.8,422.6 L44.0,423.1 L44.8,418.6 L45.5,410.6 L46.0,400.6 L46.3,390.6Z" fill="#a0a0a0"/>
<path d="M40.7,425.1 L45.5,425.1 L46.0,429.6 L49.6,431.3 L53.5,434.1 L55.0,436.1 L53.5,438.2 L50.6,440.2 L45.7,442.2 L41.7,444.1 L38.0,442.6 L35.5,442.6 L36.0,450.6 L36.6,458.6 L36.0,462.6 L34.0,466.6 L31.0,470.6 L28.5,473.6 L26.0,476.1 L15.0,475.6 L15.0,438.6 L33.9,438.6 L34.8,436.3 L36.8,434.3 L38.8,431.3 L40.5,428.6Z" fill="#a0a0a0"/>
<path d="M95.5,370.6 L117.0,370.6 L114.5,379.6 L112.0,383.6 L109.1,388.7 L106.0,392.6 L103.7,395.6 L100.5,398.6 L98.3,400.1 L97.8,395.6 L96.8,388.7 L95.9,379.6Z" fill="#a0a0a0"/>
<path d="M96.3,385.8 L97.3,393.6" fill="none" stroke="#e23b2a" stroke-width="1.5" stroke-linecap="round" stroke-linejoin="round"/>
<path d="M115.0,380.1 L111.0,385.1 L107.0,391.1 L103.0,397.1 L99.0,402.1 L95.0,407.1" fill="none" stroke="#4a70c6" stroke-width="3.5" stroke-linecap="round" stroke-linejoin="round"/>
<path d="M57.0,436.8 L63.0,433.6 L70.0,429.6 L79.0,425.1" fill="none" stroke="#5d6f92" stroke-width="0.8" stroke-linecap="round" stroke-linejoin="round"/>
</g>
<path d="M46.61,372.77 A247.40,247.40 0 0 0 156.56,371.63 L181.97,478.04 A356.80,356.80 0 0 1 23.40,479.68 Z" fill="none" stroke="#333" stroke-width="0.9"/>
<text x="45.4" y="373.5" font-size="6.9" font-weight="bold" fill="#111" stroke="#111" stroke-width="0.1" text-anchor="end">55°N</text>
<text x="38.9" y="400.0" font-size="6.9" font-weight="bold" fill="#111" stroke="#111" stroke-width="0.1" text-anchor="end">50°N</text>
<text x="32.8" y="427.1" font-size="6.9" font-weight="bold" fill="#111" stroke="#111" stroke-width="0.1" text-anchor="end">45°N</text>
<text x="27" y="453.5" font-size="6.9" font-weight="bold" fill="#111" stroke="#111" stroke-width="0.1" text-anchor="end">40°N</text>
<text x="21" y="480.5" font-size="6.9" font-weight="bold" fill="#111" stroke="#111" stroke-width="0.1" text-anchor="end">35°N</text>
<text x="81" y="375.3" font-size="6.6" font-weight="bold" fill="#111" stroke="#111" stroke-width="0.1" text-anchor="middle" transform="rotate(4.2 81 375.3)">150°E</text>
<text x="112.2" y="375.70000000000005" font-size="6.6" font-weight="bold" fill="#111" stroke="#111" stroke-width="0.1" text-anchor="middle" transform="rotate(-3.0 112.2 375.70000000000005)">160°E</text>
<text x="143.8" y="373.1" font-size="6.6" font-weight="bold" fill="#111" stroke="#111" stroke-width="0.1" text-anchor="middle" transform="rotate(-10.0 143.8 373.1)">170°E</text>
<path d="M177.5,457.3 L192.3,418.4 L226.2,418.4" fill="none" stroke="#555" stroke-width="0.7"/>
<circle cx="268.9" cy="410.3" r="42.8" fill="#7bbcf8"/>
<path d="M268.90,410.30 L268.90,367.50 A42.8,42.8 0 0 1 278.81,368.66 Z" fill="#fdc17f"/>
<path d="M268.90,410.30 L278.81,368.66 A42.8,42.8 0 0 1 290.62,373.42 Z" fill="url(#hatchB)"/>
<line x1="268.9" y1="410.3" x2="268.90" y2="367.50" stroke="#3a3a3a" stroke-width="0.5"/>
<line x1="268.9" y1="410.3" x2="278.81" y2="368.66" stroke="#3a3a3a" stroke-width="0.5"/>
<line x1="268.9" y1="410.3" x2="290.62" y2="373.42" stroke="#3a3a3a" stroke-width="0.5"/>
<circle cx="268.9" cy="410.3" r="42.8" fill="none" stroke="#151515" stroke-width="1.2"/>
<line x1="278.5" y1="387.4" x2="314.1" y2="396" stroke="#666" stroke-width="0.7"/>
<text x="271.6" y="358.7" font-size="11.5" fill="#111" stroke="#111" stroke-width="0.25" textLength="32.7" lengthAdjust="spacingAndGlyphs">3.72%</text>
<text x="269.7" y="371.5" font-size="11.5" fill="#111" stroke="#111" stroke-width="0.25" textLength="82.5" lengthAdjust="spacingAndGlyphs">underestimation</text>
<text x="315.3" y="396.7" font-size="11.5" fill="#111" stroke="#111" stroke-width="0.25" textLength="33.7" lengthAdjust="spacingAndGlyphs">4.75%</text>
<text x="314.8" y="410.7" font-size="11.5" fill="#111" stroke="#111" stroke-width="0.25" textLength="36.2" lengthAdjust="spacingAndGlyphs">outliers</text>
<text x="248.9" y="424.8" font-size="11.5" fill="#111" stroke="#111" stroke-width="0.25" textLength="39.3" lengthAdjust="spacingAndGlyphs">91.53%</text>
<text x="233.4" y="438.8" font-size="11.5" fill="#111" stroke="#111" stroke-width="0.25" textLength="76.2" lengthAdjust="spacingAndGlyphs">overestimation</text>
<rect x="194.2" y="458.6" width="154.2" height="44.19999999999999" fill="none" stroke="#444" stroke-width="0.8" stroke-dasharray="1,1"/>
<text x="198" y="467.0" font-size="10.2" fill="#1a1a1a" stroke="#1a1a1a" stroke-width="0.32">averaged improved percentage:</text>
<text x="198" y="484.5" font-size="10.2" fill="#1a1a1a" stroke="#1a1a1a" stroke-width="0.32">7.89% for underestimation</text>
<text x="198" y="500.1" font-size="10.2" fill="#1a1a1a" stroke="#1a1a1a" stroke-width="0.32">23.48% for overestimation</text>
<rect x="45.3" y="507.5" width="118.3" height="9.3" fill="url(#cbar)" stroke="#444" stroke-width="0.6"/>
<line x1="45.6" y1="514.8" x2="45.6" y2="517.2" stroke="#222" stroke-width="1"/>
<line x1="104.2" y1="514.8" x2="104.2" y2="517.2" stroke="#222" stroke-width="1"/>
<line x1="163.3" y1="514.8" x2="163.3" y2="517.2" stroke="#222" stroke-width="1"/>
<text x="43.4" y="528.9" font-size="7.6" fill="#111" stroke="#111" stroke-width="0.15" text-anchor="middle">−100</text>
<text x="104.6" y="528.9" font-size="7.6" fill="#111" stroke="#111" stroke-width="0.15" text-anchor="middle">0</text>
<text x="165.2" y="528.9" font-size="7.6" fill="#111" stroke="#111" stroke-width="0.15" text-anchor="middle">100</text>
<text x="50.2" y="542" font-size="10.2" fill="#111" stroke="#111" stroke-width="0.25" textLength="111.8" lengthAdjust="spacingAndGlyphs">Difference percentage %</text>
</svg></body></html>
